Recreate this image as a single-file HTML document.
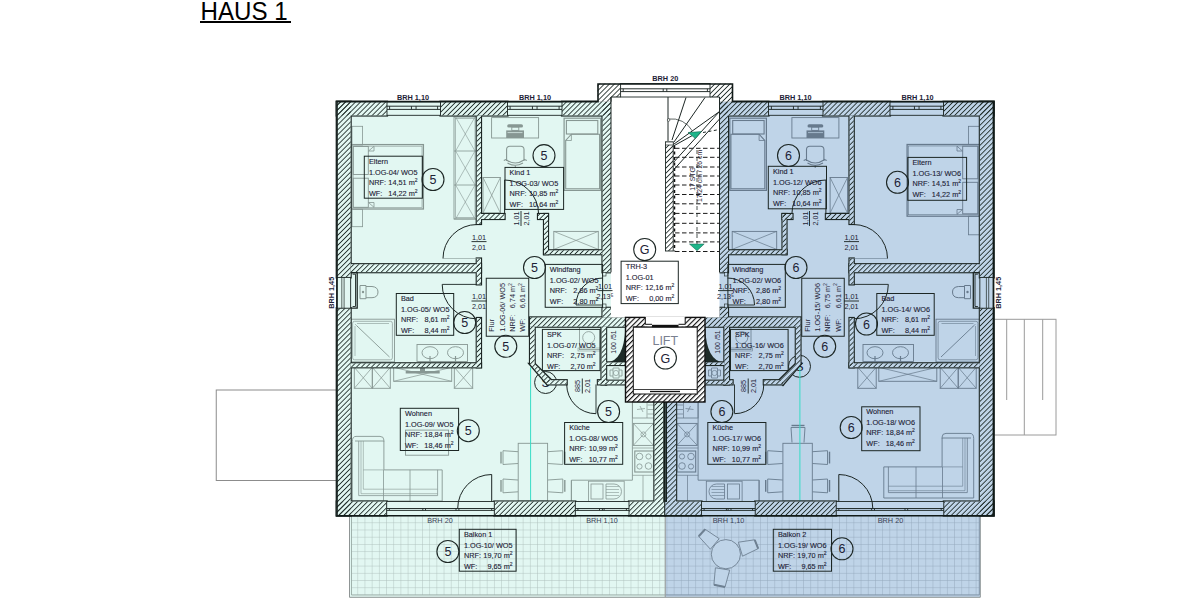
<!DOCTYPE html><html><head><meta charset="utf-8"><style>
html,body{margin:0;padding:0;background:#fff;width:1200px;height:600px;overflow:hidden}
svg{display:block}
text{font-family:"Liberation Sans",sans-serif}
.lb text{stroke:#1d2236;stroke-width:0.12px}
</style></head><body>
<svg width="1200" height="600" viewBox="0 0 1200 600">
<defs>
<pattern id="hL" patternUnits="userSpaceOnUse" width="3.55" height="3.55" patternTransform="rotate(-45)">
<rect x="0" y="0" width="3.55" height="0.85" fill="#1e2a27"/></pattern>
<pattern id="hR" patternUnits="userSpaceOnUse" width="3.55" height="3.55" patternTransform="rotate(45)">
<rect x="0" y="0" width="3.55" height="0.85" fill="#1e2a27"/></pattern>
<pattern id="hLift" patternUnits="userSpaceOnUse" width="3.6" height="3.6" patternTransform="rotate(-45)">
<rect x="0" y="0" width="3.6" height="1.15" fill="#111"/></pattern>
<pattern id="grid" patternUnits="userSpaceOnUse" width="7.19" height="7.22" x="357.3" y="522.3">
<path d="M0 0V7.22M0 0H7.19" stroke="#adc0bb" stroke-width="0.9" fill="none"/></pattern>
<pattern id="gridB" patternUnits="userSpaceOnUse" width="7.19" height="7.22" x="357.3" y="522.3">
<path d="M0 0V7.22M0 0H7.19" stroke="#93a8bc" stroke-width="0.9" fill="none"/></pattern>
</defs>

<text x="0" y="0" font-size="25.8" fill="#000" transform="translate(200.6,19.7) scale(0.935,1)">HAUS 1</text>
<line x1="200" y1="22" x2="291" y2="22" stroke="#000" stroke-width="2.2" />
<rect x="216.25" y="390" width="120.5" height="90.5" fill="#fff" stroke="#8c8c8c" stroke-width="1" />
<rect x="993.75" y="319.3" width="62.25" height="115.7" fill="#fff" stroke="#9a9a9a" stroke-width="1" />
<line x1="1006.7" y1="319.3" x2="1006.7" y2="400" stroke="#9a9a9a" stroke-width="1" />
<line x1="1024.3" y1="319.3" x2="1024.3" y2="435" stroke="#9a9a9a" stroke-width="1" />
<line x1="1042.7" y1="319.3" x2="1042.7" y2="400" stroke="#9a9a9a" stroke-width="1" />
<rect x="349.5" y="515.5" width="315.75" height="81.8" fill="#e2f7f2" stroke="none" stroke-width="1" />
<rect x="351.5" y="515.5" width="313.75" height="79.5" fill="url(#grid)" stroke="none" stroke-width="1" />
<rect x="665.25" y="515.5" width="315.05" height="81.8" fill="#bfd4e8" stroke="none" stroke-width="1" />
<rect x="665.25" y="515.5" width="314.05" height="79.5" fill="url(#gridB)" stroke="none" stroke-width="1" />
<path d="M349.5 515.5V597.3H980.3V515.5" fill="none" stroke="#8f9595" stroke-width="1"/>
<path d="M351.5 515.5V595H665.25" fill="none" stroke="#98aaa5" stroke-width="0.9"/>
<path d="M665.25 595H979.3V515.5" fill="none" stroke="#7a8ea2" stroke-width="0.9"/>
<polygon points="698.7,536.3 705.2,529.3 719.2,538.7 710.4,549.2" fill="#bfd4e8" stroke="#6e8092" stroke-width="0.9"/>
<polyline points="698.7,536.3 705.2,529.3" fill="none" stroke="#6e8092" stroke-width="2"/>
<polygon points="738.4,542.2 754.7,539.8 758.2,548.6 742.5,556.2" fill="#bfd4e8" stroke="#6e8092" stroke-width="0.9"/>
<polyline points="754.7,539.8 758.2,548.6" fill="none" stroke="#6e8092" stroke-width="2"/>
<polygon points="715.4,567.8 729.7,570.1 725,587 713.9,584.7" fill="#bfd4e8" stroke="#6e8092" stroke-width="0.9"/>
<polyline points="713.9,584.7 725,587" fill="none" stroke="#6e8092" stroke-width="2"/>
<circle cx="725.9" cy="554.2" r="14.6" fill="#bfd4e8" stroke="#6e8092" stroke-width="0.9"/>
<line x1="665.25" y1="515.5" x2="665.25" y2="597" stroke="#9aa0a0" stroke-width="1.2" />
<rect x="336.75" y="101.75" width="328.5" height="413.75" fill="#e2f7f2" stroke="none" stroke-width="1" />
<circle cx="545.6" cy="382.5" r="11" fill="none" stroke="#1c2624" stroke-width="1"/>
<text x="545.6" y="387" font-size="12.5" fill="#1d2236" text-anchor="middle">S</text>
<rect x="351.8" y="144.6" width="71.6" height="64.4" fill="none" stroke="#879793" stroke-width="1.3" />
<rect x="353.2" y="146.2" width="68.8" height="61.3" fill="none" stroke="#879793" stroke-width="0.6" />
<rect x="353.2" y="146.5" width="15.1" height="28" fill="none" stroke="#879793" stroke-width="0.9" />
<rect x="353.2" y="178.2" width="15.1" height="29.1" fill="none" stroke="#879793" stroke-width="0.9" />
<path d="M368.5 151L374 146.3V151Z M368.5 202.5L374 207.3V202.5Z" fill="none" stroke="#879793" stroke-width="0.8" />
<rect x="352" y="126.3" width="10.6" height="18.7" fill="none" stroke="#879793" stroke-width="0.8" />
<rect x="352" y="209.3" width="10.6" height="17.4" fill="none" stroke="#879793" stroke-width="0.8" />
<rect x="454" y="117" width="22.5" height="102" fill="none" stroke="#879793" stroke-width="0.9" />
<rect x="455.6" y="118.5" width="19.4" height="99" fill="none" stroke="#879793" stroke-width="0.6" />
<line x1="455.6" y1="117" x2="475" y2="151" stroke="#879793" stroke-width="0.6" />
<line x1="455.6" y1="151" x2="475" y2="117" stroke="#879793" stroke-width="0.6" />
<line x1="454" y1="151" x2="476.5" y2="151" stroke="#879793" stroke-width="0.8" />
<line x1="455.6" y1="151" x2="475" y2="185" stroke="#879793" stroke-width="0.6" />
<line x1="455.6" y1="185" x2="475" y2="151" stroke="#879793" stroke-width="0.6" />
<line x1="454" y1="185" x2="476.5" y2="185" stroke="#879793" stroke-width="0.8" />
<line x1="455.6" y1="185" x2="475" y2="219" stroke="#879793" stroke-width="0.6" />
<line x1="455.6" y1="219" x2="475" y2="185" stroke="#879793" stroke-width="0.6" />
<line x1="454" y1="219" x2="476.5" y2="219" stroke="#879793" stroke-width="0.8" />
<rect x="491.6" y="117.6" width="47" height="20.4" fill="none" stroke="#879793" stroke-width="0.9" />
<rect x="506.2" y="130.4" width="17.8" height="7.6" fill="#879793" stroke="none" stroke-width="1" />
<line x1="507.5" y1="132.6" x2="522.5" y2="132.6" stroke="#e2f7f2" stroke-width="0.7" />
<rect x="511.8" y="127" width="7" height="3.4" fill="none" stroke="#879793" stroke-width="0.9" />
<rect x="507.2" y="124.3" width="15.8" height="3.2" fill="#879793" stroke="none" stroke-width="1" rx="1.6"/>
<path d="M506.6 161 V149.5 Q506.6 146.2 510 146.2 H520.6 Q524 146.2 524 149.5 V161" fill="none" stroke="#879793" stroke-width="1.1" />
<path d="M503.8 160.5 L506.6 159.3 M526.8 160.5 L524 159.3 M506.6 160 Q515.3 166 524 160 M507.5 163 Q515.3 167.5 523 163" fill="none" stroke="#879793" stroke-width="1.1" />
<line x1="515.3" y1="165.5" x2="515.3" y2="168" stroke="#879793" stroke-width="1" />
<rect x="564.1" y="118.2" width="36.6" height="72.2" fill="none" stroke="#879793" stroke-width="1.2" />
<rect x="566.4" y="120.5" width="31.4" height="13.5" fill="none" stroke="#879793" stroke-width="1.1" />
<path d="M571.4 134.2H599.6V188.8H565.7V140.5Z" fill="none" stroke="#879793" stroke-width="1.1" />
<path d="M565.7 140.5H571.4V134.2" fill="none" stroke="#879793" stroke-width="0.8" />
<rect x="483" y="177.5" width="17.4" height="35.5" fill="none" stroke="#879793" stroke-width="0.9" /><line x1="483" y1="177.5" x2="500.4" y2="213" stroke="#879793" stroke-width="0.7200000000000001" /><line x1="483" y1="213" x2="500.4" y2="177.5" stroke="#879793" stroke-width="0.7200000000000001" />
<rect x="553.8" y="231.4" width="44.5" height="18" fill="none" stroke="#879793" stroke-width="0.9" /><line x1="553.8" y1="231.4" x2="598.3" y2="249.4" stroke="#879793" stroke-width="0.7200000000000001" /><line x1="553.8" y1="249.4" x2="598.3" y2="231.4" stroke="#879793" stroke-width="0.7200000000000001" />
<path d="M360 285.5H366V298.7H360Z M366 286.5H372 Q378 287 378 292 Q378 297.5 372 297.7H366" fill="none" stroke="#879793" stroke-width="1" />
<circle cx="363" cy="292" r="1.2" fill="#879793"/>
<rect x="350.8" y="319.2" width="43.7" height="42.7" fill="none" stroke="#879793" stroke-width="0.9" />
<rect x="352.6" y="321.3" width="39.8" height="38.5" fill="none" stroke="#879793" stroke-width="0.7" rx="2"/>
<line x1="357" y1="326" x2="389.5" y2="357" stroke="#879793" stroke-width="0.9" />
<line x1="355" y1="324" x2="358" y2="327" stroke="#879793" stroke-width="0.6" />
<line x1="355" y1="326" x2="355" y2="356" stroke="#879793" stroke-width="0.6" />
<line x1="357" y1="323.5" x2="389" y2="323.5" stroke="#879793" stroke-width="0.6" />
<rect x="417" y="344.5" width="50.5" height="17" fill="none" stroke="#879793" stroke-width="0.9" />
<ellipse cx="430" cy="352.7" rx="8" ry="6" fill="none" stroke="#879793" stroke-width="0.9"/>
<ellipse cx="455.5" cy="352.7" rx="8" ry="6" fill="none" stroke="#879793" stroke-width="0.9"/>
<line x1="430" y1="356" x2="430" y2="362" stroke="#879793" stroke-width="1.2" />
<line x1="455.5" y1="356" x2="455.5" y2="362" stroke="#879793" stroke-width="1.2" />
<rect x="354.3" y="367.3" width="18" height="21" fill="none" stroke="#879793" stroke-width="0.9" /><line x1="354.3" y1="367.3" x2="372.3" y2="388.3" stroke="#879793" stroke-width="0.7200000000000001" /><line x1="354.3" y1="388.3" x2="372.3" y2="367.3" stroke="#879793" stroke-width="0.7200000000000001" />
<rect x="372.3" y="367.3" width="18" height="21" fill="none" stroke="#879793" stroke-width="0.9" /><line x1="372.3" y1="367.3" x2="390.3" y2="388.3" stroke="#879793" stroke-width="0.7200000000000001" /><line x1="372.3" y1="388.3" x2="390.3" y2="367.3" stroke="#879793" stroke-width="0.7200000000000001" />
<rect x="393.7" y="367.3" width="58" height="14" fill="none" stroke="#879793" stroke-width="0.9" /><line x1="393.7" y1="367.3" x2="451.7" y2="381.3" stroke="#879793" stroke-width="0.7200000000000001" /><line x1="393.7" y1="381.3" x2="451.7" y2="367.3" stroke="#879793" stroke-width="0.7200000000000001" />
<rect x="454.3" y="367.3" width="18.4" height="21" fill="none" stroke="#879793" stroke-width="0.9" /><line x1="454.3" y1="367.3" x2="472.7" y2="388.3" stroke="#879793" stroke-width="0.7200000000000001" /><line x1="454.3" y1="388.3" x2="472.7" y2="367.3" stroke="#879793" stroke-width="0.7200000000000001" />
<rect x="405.7" y="371" width="34" height="2.5" fill="#879793" stroke="none" stroke-width="1" />
<rect x="420" y="368" width="5" height="3" fill="#879793" stroke="none" stroke-width="1" />
<path d="M352.3 501V441.5 Q352.3 436.4 356 436.4H380 Q383.9 436.4 383.9 440V441.5" fill="none" stroke="#879793" stroke-width="0.9" />
<path d="M355 441H383.9V469.9H442.2V501H352.3" fill="none" stroke="#879793" stroke-width="0.9" />
<path d="M358.7 441V495.6H437.6V469.9" fill="none" stroke="#879793" stroke-width="0.8" />
<path d="M361 441V493.7H437.6" fill="none" stroke="#879793" stroke-width="0.6" />
<path d="M363.3 441V489.2H437.6" fill="none" stroke="#879793" stroke-width="0.6" />
<line x1="383.5" y1="469.9" x2="383.5" y2="501" stroke="#879793" stroke-width="0.8" />
<line x1="410" y1="469.9" x2="410" y2="501" stroke="#879793" stroke-width="0.8" />
<line x1="363.3" y1="469.9" x2="383.5" y2="469.9" stroke="#879793" stroke-width="0.6" />
<rect x="405.5" y="430.1" width="43.1" height="25.1" fill="none" stroke="#879793" stroke-width="0.9" />
<rect x="518.2" y="443.3" width="29.4" height="57.7" fill="none" stroke="#879793" stroke-width="0.9" />
<path d="M518 451.7L503 450.7V464.5L518 463.5" fill="none" stroke="#879793" stroke-width="0.9" />
<path d="M501 451.7V463.5" fill="none" stroke="#879793" stroke-width="1.4" />
<path d="M547.8 451.7L562.8 450.7V464.5L547.8 463.5" fill="none" stroke="#879793" stroke-width="0.9" />
<path d="M564.8 451.7V463.5" fill="none" stroke="#879793" stroke-width="1.4" />
<path d="M518 480L503 479V492.8L518 491.8" fill="none" stroke="#879793" stroke-width="0.9" />
<path d="M501 480V491.8" fill="none" stroke="#879793" stroke-width="1.4" />
<path d="M547.8 480L562.8 479V492.8L547.8 491.8" fill="none" stroke="#879793" stroke-width="0.9" />
<path d="M564.8 480V491.8" fill="none" stroke="#879793" stroke-width="1.4" />
<path d="M632.4 402V480.2H571.4V501.5" fill="none" stroke="#879793" stroke-width="0.9" />
<rect x="632.4" y="402" width="22" height="16" fill="none" stroke="#879793" stroke-width="0.8" />
<line x1="647" y1="402" x2="647" y2="418" stroke="#879793" stroke-width="0.7" />
<path d="M637 409.5L645 408.5M640 406L643 412M647.5 405H653.5M647.5 409.5H653.5M647.5 414H653.5" fill="none" stroke="#879793" stroke-width="0.7" />
<rect x="633.3" y="423.4" width="20.2" height="22" fill="none" stroke="#879793" stroke-width="0.9" /><line x1="633.3" y1="423.4" x2="653.5" y2="445.4" stroke="#879793" stroke-width="0.7200000000000001" /><line x1="633.3" y1="445.4" x2="653.5" y2="423.4" stroke="#879793" stroke-width="0.7200000000000001" />
<circle cx="643.4" cy="434.4" r="2.5" fill="none" stroke="#879793" stroke-width="0.7"/>
<rect x="634.8" y="451" width="18.7" height="21" fill="none" stroke="#879793" stroke-width="1.1" />
<circle cx="639.5" cy="456.5" r="3.3" fill="none" stroke="#879793" stroke-width="0.8"/>
<circle cx="648.5" cy="456.5" r="2.6" fill="none" stroke="#879793" stroke-width="0.8"/>
<circle cx="639.5" cy="466.5" r="2.6" fill="none" stroke="#879793" stroke-width="0.8"/>
<circle cx="648.5" cy="466" r="3.3" fill="none" stroke="#879793" stroke-width="0.8"/>
<line x1="632.4" y1="475.3" x2="654.4" y2="475.3" stroke="#879793" stroke-width="0.7" />
<line x1="643" y1="475.3" x2="643" y2="502" stroke="#879793" stroke-width="0.7" />
<line x1="632.4" y1="448" x2="654.4" y2="448" stroke="#879793" stroke-width="0.7" />
<rect x="588.4" y="481.2" width="35.8" height="20.8" fill="none" stroke="#879793" stroke-width="0.8" />
<rect x="591" y="484" width="12" height="15" fill="none" stroke="#879793" stroke-width="0.8" />
<path d="M606 484H614 A7.5 7.5 0 0 1 614 499H606Z" fill="none" stroke="#879793" stroke-width="0.8" />
<line x1="606" y1="486.5" x2="619" y2="486.5" stroke="#879793" stroke-width="0.6" />
<line x1="606" y1="489.5" x2="619" y2="489.5" stroke="#879793" stroke-width="0.6" />
<line x1="606" y1="492.5" x2="619" y2="492.5" stroke="#879793" stroke-width="0.6" />
<line x1="606" y1="495.5" x2="619" y2="495.5" stroke="#879793" stroke-width="0.6" />
<line x1="571.4" y1="480.2" x2="571.4" y2="501.5" stroke="#879793" stroke-width="0.8" />
<rect x="606.1" y="326.7" width="19.4" height="35.7" fill="#e2f7f2" stroke="#1c2624" stroke-width="0.9" />
<path d="M607 362.2H625.3V328Q624 361 607 362.2Z" fill="#1e2b28"/>
<rect x="606.1" y="365" width="19.4" height="15.7" fill="#e2f7f2" stroke="#1c2624" stroke-width="0.8" />
<path d="M610 370H613V368H619V370H622V376H619V378H613V376H610Z M613 370V376M619 370V376" fill="none" stroke="#879793" stroke-width="0.8" />
<circle cx="616" cy="373" r="2.6" fill="none" stroke="#879793" stroke-width="0.7"/>
<rect x="579.5" y="327.6" width="21.1" height="22" fill="none" stroke="#879793" stroke-width="0.8" />
<circle cx="588.7" cy="337.6" r="6" fill="none" stroke="#879793" stroke-width="0.8"/>
<rect x="578" y="348" width="22.6" height="3" fill="none" stroke="#879793" stroke-width="0.6" />
<line x1="530.6" y1="367.4" x2="530.6" y2="501.5" stroke="#35dcc6" stroke-width="1" />
<rect x="337.05" y="102.05" width="49.65" height="13.15" fill="none" stroke="#1c2624" stroke-width="2.8" />
<rect x="440.8" y="102.05" width="66.4" height="13.15" fill="none" stroke="#1c2624" stroke-width="2.8" />
<rect x="562.3" y="102.05" width="48.4" height="13.15" fill="none" stroke="#1c2624" stroke-width="2.8" />
<rect x="337.05" y="102.05" width="13.3" height="175.05" fill="none" stroke="#1c2624" stroke-width="2.8" />
<rect x="337.05" y="308.5" width="13.3" height="206.7" fill="none" stroke="#1c2624" stroke-width="2.8" />
<rect x="337.05" y="501.8" width="49.35" height="13.4" fill="none" stroke="#1c2624" stroke-width="2.8" />
<rect x="494.6" y="501.8" width="80.4" height="13.4" fill="none" stroke="#1c2624" stroke-width="2.8" />
<rect x="629.3" y="501.8" width="35.65" height="13.4" fill="none" stroke="#1c2624" stroke-width="2.8" />
<rect x="602.8" y="102.05" width="7.9" height="169.95" fill="none" stroke="#1c2624" stroke-width="2.8" />
<rect x="602.8" y="308.1" width="7.9" height="9" fill="none" stroke="#1c2624" stroke-width="2.8" />
<rect x="477.05" y="115.8" width="3.65" height="107.9" fill="none" stroke="#1c2624" stroke-width="2.8" />
<rect x="477.05" y="258.8" width="3.65" height="25.3" fill="none" stroke="#1c2624" stroke-width="2.8" />
<rect x="477.05" y="318.3" width="3.65" height="48.7" fill="none" stroke="#1c2624" stroke-width="2.8" />
<rect x="350.95" y="264.5" width="129.75" height="7.4" fill="none" stroke="#1c2624" stroke-width="2.8" />
<rect x="350.95" y="363.6" width="129.75" height="3.4" fill="none" stroke="#1c2624" stroke-width="2.8" />
<rect x="481.3" y="214.3" width="23" height="4.4" fill="none" stroke="#1c2624" stroke-width="2.8" />
<rect x="538.3" y="214.3" width="9.4" height="4.4" fill="none" stroke="#1c2624" stroke-width="2.8" />
<rect x="544.3" y="214.3" width="3.4" height="39.6" fill="none" stroke="#1c2624" stroke-width="2.8" />
<rect x="544.3" y="250.6" width="57.9" height="3.3" fill="none" stroke="#1c2624" stroke-width="2.8" />
<rect x="530.3" y="317.7" width="94.9" height="8.7" fill="none" stroke="#1c2624" stroke-width="2.8" />
<rect x="530.3" y="327" width="4.1" height="36.7" fill="none" stroke="#1c2624" stroke-width="2.8" />
<rect x="547.8" y="380.5" width="18.6" height="3.6" fill="none" stroke="#1c2624" stroke-width="2.8" />
<rect x="601.8" y="327" width="4" height="57.1" fill="none" stroke="#1c2624" stroke-width="2.8" />
<rect x="598.2" y="380.5" width="7.6" height="3.6" fill="none" stroke="#1c2624" stroke-width="2.8" />
<rect x="606.4" y="362.7" width="18.8" height="2" fill="none" stroke="#1c2624" stroke-width="2.8" />
<rect x="606.4" y="381" width="18.8" height="3.1" fill="none" stroke="#1c2624" stroke-width="2.8" />
<rect x="654.7" y="402.3" width="8.5" height="99.4" fill="none" stroke="#1c2624" stroke-width="2.8" />
<polygon points="530,364 534.7,364 551,380.2 547.5,384.4" fill="none" stroke="#1c2624" stroke-width="2.6"/>
<rect x="336.75" y="101.75" width="50.25" height="13.75" fill="#e2f7f2" stroke="none" stroke-width="1" />
<rect x="440.5" y="101.75" width="67" height="13.75" fill="#e2f7f2" stroke="none" stroke-width="1" />
<rect x="562" y="101.75" width="49" height="13.75" fill="#e2f7f2" stroke="none" stroke-width="1" />
<rect x="336.75" y="101.75" width="13.9" height="175.65" fill="#e2f7f2" stroke="none" stroke-width="1" />
<rect x="336.75" y="308.2" width="13.9" height="207.3" fill="#e2f7f2" stroke="none" stroke-width="1" />
<rect x="336.75" y="501.5" width="49.95" height="14" fill="#e2f7f2" stroke="none" stroke-width="1" />
<rect x="494.3" y="501.5" width="81" height="14" fill="#e2f7f2" stroke="none" stroke-width="1" />
<rect x="629" y="501.5" width="36.25" height="14" fill="#e2f7f2" stroke="none" stroke-width="1" />
<rect x="602.5" y="101.75" width="8.5" height="170.55" fill="#e2f7f2" stroke="none" stroke-width="1" />
<rect x="602.5" y="307.8" width="8.5" height="9.6" fill="#e2f7f2" stroke="none" stroke-width="1" />
<rect x="476.75" y="115.5" width="4.25" height="108.5" fill="#e2f7f2" stroke="none" stroke-width="1" />
<rect x="476.75" y="258.5" width="4.25" height="25.9" fill="#e2f7f2" stroke="none" stroke-width="1" />
<rect x="476.75" y="318" width="4.25" height="49.3" fill="#e2f7f2" stroke="none" stroke-width="1" />
<rect x="350.65" y="264.2" width="130.35" height="8" fill="#e2f7f2" stroke="none" stroke-width="1" />
<rect x="350.65" y="363.3" width="130.35" height="4" fill="#e2f7f2" stroke="none" stroke-width="1" />
<rect x="481" y="214" width="23.6" height="5" fill="#e2f7f2" stroke="none" stroke-width="1" />
<rect x="538" y="214" width="10" height="5" fill="#e2f7f2" stroke="none" stroke-width="1" />
<rect x="544" y="214" width="4" height="40.2" fill="#e2f7f2" stroke="none" stroke-width="1" />
<rect x="544" y="250.3" width="58.5" height="3.9" fill="#e2f7f2" stroke="none" stroke-width="1" />
<rect x="530" y="317.4" width="95.5" height="9.3" fill="#e2f7f2" stroke="none" stroke-width="1" />
<rect x="530" y="326.7" width="4.7" height="37.3" fill="#e2f7f2" stroke="none" stroke-width="1" />
<rect x="547.5" y="380.2" width="19.2" height="4.2" fill="#e2f7f2" stroke="none" stroke-width="1" />
<rect x="601.5" y="326.7" width="4.6" height="57.7" fill="#e2f7f2" stroke="none" stroke-width="1" />
<rect x="597.9" y="380.2" width="8.2" height="4.2" fill="#e2f7f2" stroke="none" stroke-width="1" />
<rect x="606.1" y="362.4" width="19.4" height="2.6" fill="#e2f7f2" stroke="none" stroke-width="1" />
<rect x="606.1" y="380.7" width="19.4" height="3.7" fill="#e2f7f2" stroke="none" stroke-width="1" />
<rect x="654.4" y="402" width="9.1" height="100" fill="#e2f7f2" stroke="none" stroke-width="1" />
<polygon points="530,364 534.7,364 551,380.2 547.5,384.4" fill="#e2f7f2"/>
<rect x="336.75" y="101.75" width="50.25" height="13.75" fill="url(#hL)" stroke="none" stroke-width="1" />
<rect x="440.5" y="101.75" width="67" height="13.75" fill="url(#hL)" stroke="none" stroke-width="1" />
<rect x="562" y="101.75" width="49" height="13.75" fill="url(#hL)" stroke="none" stroke-width="1" />
<rect x="336.75" y="101.75" width="13.9" height="175.65" fill="url(#hL)" stroke="none" stroke-width="1" />
<rect x="336.75" y="308.2" width="13.9" height="207.3" fill="url(#hL)" stroke="none" stroke-width="1" />
<rect x="336.75" y="501.5" width="49.95" height="14" fill="url(#hL)" stroke="none" stroke-width="1" />
<rect x="494.3" y="501.5" width="81" height="14" fill="url(#hL)" stroke="none" stroke-width="1" />
<rect x="629" y="501.5" width="36.25" height="14" fill="url(#hL)" stroke="none" stroke-width="1" />
<rect x="602.5" y="101.75" width="8.5" height="170.55" fill="url(#hL)" stroke="none" stroke-width="1" />
<rect x="602.5" y="307.8" width="8.5" height="9.6" fill="url(#hL)" stroke="none" stroke-width="1" />
<rect x="476.75" y="115.5" width="4.25" height="108.5" fill="url(#hL)" stroke="none" stroke-width="1" />
<rect x="476.75" y="258.5" width="4.25" height="25.9" fill="url(#hL)" stroke="none" stroke-width="1" />
<rect x="476.75" y="318" width="4.25" height="49.3" fill="url(#hL)" stroke="none" stroke-width="1" />
<rect x="350.65" y="264.2" width="130.35" height="8" fill="url(#hL)" stroke="none" stroke-width="1" />
<rect x="350.65" y="363.3" width="130.35" height="4" fill="url(#hL)" stroke="none" stroke-width="1" />
<rect x="481" y="214" width="23.6" height="5" fill="url(#hL)" stroke="none" stroke-width="1" />
<rect x="538" y="214" width="10" height="5" fill="url(#hL)" stroke="none" stroke-width="1" />
<rect x="544" y="214" width="4" height="40.2" fill="url(#hL)" stroke="none" stroke-width="1" />
<rect x="544" y="250.3" width="58.5" height="3.9" fill="url(#hL)" stroke="none" stroke-width="1" />
<rect x="530" y="317.4" width="95.5" height="9.3" fill="url(#hL)" stroke="none" stroke-width="1" />
<rect x="530" y="326.7" width="4.7" height="37.3" fill="url(#hL)" stroke="none" stroke-width="1" />
<rect x="547.5" y="380.2" width="19.2" height="4.2" fill="url(#hL)" stroke="none" stroke-width="1" />
<rect x="601.5" y="326.7" width="4.6" height="57.7" fill="url(#hL)" stroke="none" stroke-width="1" />
<rect x="597.9" y="380.2" width="8.2" height="4.2" fill="url(#hL)" stroke="none" stroke-width="1" />
<rect x="606.1" y="362.4" width="19.4" height="2.6" fill="url(#hL)" stroke="none" stroke-width="1" />
<rect x="606.1" y="380.7" width="19.4" height="3.7" fill="url(#hL)" stroke="none" stroke-width="1" />
<rect x="654.4" y="402" width="9.1" height="100" fill="url(#hL)" stroke="none" stroke-width="1" />
<polygon points="530,364 534.7,364 551,380.2 547.5,384.4" fill="url(#hL)"/>
<rect x="663.5" y="402" width="1.75" height="100" fill="#15201d" stroke="none" stroke-width="1" />
<rect x="387" y="101.75" width="53.5" height="13.55" fill="#e2f7f2" stroke="#1c2624" stroke-width="0.9" />
<line x1="387" y1="106.2" x2="440.5" y2="106.2" stroke="#1c2624" stroke-width="0.95" />
<line x1="387" y1="109.4" x2="440.5" y2="109.4" stroke="#1c2624" stroke-width="0.95" />
<line x1="389.6" y1="106.2" x2="389.6" y2="109.4" stroke="#1c2624" stroke-width="0.9" />
<line x1="437.6" y1="106.2" x2="437.6" y2="109.4" stroke="#1c2624" stroke-width="0.9" />
<line x1="411.45" y1="106.2" x2="411.45" y2="109.4" stroke="#1c2624" stroke-width="0.9" />
<line x1="416.05" y1="106.2" x2="416.05" y2="109.4" stroke="#1c2624" stroke-width="0.9" />
<rect x="507.5" y="101.75" width="54.5" height="13.55" fill="#e2f7f2" stroke="#1c2624" stroke-width="0.9" />
<line x1="507.5" y1="106.2" x2="562" y2="106.2" stroke="#1c2624" stroke-width="0.95" />
<line x1="507.5" y1="109.4" x2="562" y2="109.4" stroke="#1c2624" stroke-width="0.95" />
<line x1="510.1" y1="106.2" x2="510.1" y2="109.4" stroke="#1c2624" stroke-width="0.9" />
<line x1="559.1" y1="106.2" x2="559.1" y2="109.4" stroke="#1c2624" stroke-width="0.9" />
<line x1="532.45" y1="106.2" x2="532.45" y2="109.4" stroke="#1c2624" stroke-width="0.9" />
<line x1="537.05" y1="106.2" x2="537.05" y2="109.4" stroke="#1c2624" stroke-width="0.9" />
<rect x="386.7" y="501.5" width="107.6" height="14" fill="#e2f7f2" stroke="#1c2624" stroke-width="0.9" />
<line x1="386.7" y1="508.5" x2="494.3" y2="508.5" stroke="#1c2624" stroke-width="0.95" />
<line x1="386.7" y1="510.4" x2="494.3" y2="510.4" stroke="#1c2624" stroke-width="0.95" />
<line x1="389.3" y1="508.5" x2="389.3" y2="510.4" stroke="#1c2624" stroke-width="0.9" />
<line x1="491.7" y1="508.5" x2="491.7" y2="510.4" stroke="#1c2624" stroke-width="0.9" />
<rect x="575.3" y="501.5" width="53.7" height="14" fill="#e2f7f2" stroke="#1c2624" stroke-width="0.9" />
<line x1="575.3" y1="508.5" x2="629" y2="508.5" stroke="#1c2624" stroke-width="0.95" />
<line x1="575.3" y1="510.4" x2="629" y2="510.4" stroke="#1c2624" stroke-width="0.95" />
<line x1="577.9" y1="508.5" x2="577.9" y2="510.4" stroke="#1c2624" stroke-width="0.9" />
<line x1="626.4" y1="508.5" x2="626.4" y2="510.4" stroke="#1c2624" stroke-width="0.9" />
<line x1="422.8" y1="508.5" x2="422.8" y2="510.4" stroke="#1c2624" stroke-width="0.9" />
<line x1="425.5" y1="508.5" x2="425.5" y2="510.4" stroke="#1c2624" stroke-width="0.9" />
<line x1="456" y1="508.5" x2="456" y2="510.4" stroke="#1c2624" stroke-width="0.9" />
<line x1="458.9" y1="508.5" x2="458.9" y2="510.4" stroke="#1c2624" stroke-width="0.9" />
<line x1="599.5" y1="508.5" x2="599.5" y2="510.4" stroke="#1c2624" stroke-width="0.9" />
<line x1="602.4" y1="508.5" x2="602.4" y2="510.4" stroke="#1c2624" stroke-width="0.9" />
<line x1="604.1" y1="508.5" x2="604.1" y2="510.4" stroke="#1c2624" stroke-width="0.9" />
<rect x="336.75" y="277.4" width="13.9" height="30.8" fill="#e2f7f2" stroke="#1c2624" stroke-width="0.9" />
<line x1="341.8" y1="277.4" x2="341.8" y2="308.2" stroke="#1c2624" stroke-width="0.7" />
<line x1="344.1" y1="277.4" x2="344.1" y2="308.2" stroke="#1c2624" stroke-width="0.7" />
<path d="M350.9 272.7H357.2V308.2H350.9" fill="none" stroke="#1c2624" stroke-width="1.3" />
<path d="M352.6 274.2H355.5V306.5H352.6" fill="none" stroke="#1c2624" stroke-width="0.9" />
<path d="M477 224.5 A34 34 0 0 0 443 258.5" fill="none" stroke="#1c2624" stroke-width="1" />
<line x1="443" y1="258.5" x2="477" y2="258.5" stroke="#879793" stroke-width="0.6" />
<line x1="442.2" y1="284.4" x2="476.6" y2="284.4" stroke="#1c2624" stroke-width="0.9" />
<path d="M442.2 284.4 A34.4 34.4 0 0 0 476.6 318.8" fill="none" stroke="#1c2624" stroke-width="1" />
<line x1="504.6" y1="180" x2="504.6" y2="214" stroke="#1c2624" stroke-width="1" />
<path d="M504.6 180 A34 34 0 0 1 538.6 214" fill="none" stroke="#1c2624" stroke-width="1" />
<line x1="576" y1="305" x2="603" y2="305" stroke="#1c2624" stroke-width="0.9" />
<path d="M576 305 A27 27 0 0 1 603 278" fill="none" stroke="#1c2624" stroke-width="1" />
<rect x="602.5" y="272.3" width="3.5" height="3.7" fill="#e2f7f2" stroke="#1c2624" stroke-width="0.6" />
<rect x="602.5" y="304" width="3.5" height="3.8" fill="#e2f7f2" stroke="#1c2624" stroke-width="0.6" />
<line x1="596" y1="384.4" x2="596" y2="413.5" stroke="#1c2624" stroke-width="0.9" />
<path d="M566.7 384.4 A29.3 29.3 0 0 0 596 413.7" fill="none" stroke="#1c2624" stroke-width="1" />
<line x1="491.7" y1="474.5" x2="491.7" y2="501.5" stroke="#1c2624" stroke-width="1" />
<path d="M491.7 474.5 A34 34 0 0 0 457.7 508.5" fill="none" stroke="#1c2624" stroke-width="1" />
<g transform="matrix(-1 0 0 1 1330.5 0)"><rect x="336.75" y="101.75" width="328.5" height="413.75" fill="#bfd4e8" stroke="none" stroke-width="1" />
<circle cx="531" cy="366.3" r="11" fill="none" stroke="#1c2624" stroke-width="1"/>
<text x="-531" y="370.8" font-size="12.5" fill="#1d2236" text-anchor="middle" transform="scale(-1,1)">S</text>
<rect x="351" y="144.5" width="72.4" height="71.7" fill="none" stroke="#677a8d" stroke-width="1.3" />
<rect x="352.4" y="146" width="69.6" height="68.7" fill="none" stroke="#677a8d" stroke-width="0.6" />
<rect x="352.7" y="146.2" width="15.1" height="32.6" fill="none" stroke="#677a8d" stroke-width="0.9" />
<rect x="352.7" y="182.3" width="15.1" height="31.5" fill="none" stroke="#677a8d" stroke-width="0.9" />
<path d="M368 151L373.5 146.2V151Z M368 209.5L373.5 214.3V209.5Z" fill="none" stroke="#677a8d" stroke-width="0.8" />
<rect x="351" y="126.3" width="11" height="18.2" fill="none" stroke="#677a8d" stroke-width="0.8" />
<rect x="351" y="216.2" width="11" height="18.6" fill="none" stroke="#677a8d" stroke-width="0.8" />
<rect x="491.6" y="117.6" width="47" height="20.4" fill="none" stroke="#677a8d" stroke-width="0.9" />
<rect x="506.2" y="130.4" width="17.8" height="7.6" fill="#677a8d" stroke="none" stroke-width="1" />
<line x1="507.5" y1="132.6" x2="522.5" y2="132.6" stroke="#bfd4e8" stroke-width="0.7" />
<rect x="511.8" y="127" width="7" height="3.4" fill="none" stroke="#677a8d" stroke-width="0.9" />
<rect x="507.2" y="124.3" width="15.8" height="3.2" fill="#677a8d" stroke="none" stroke-width="1" rx="1.6"/>
<path d="M506.6 161 V149.5 Q506.6 146.2 510 146.2 H520.6 Q524 146.2 524 149.5 V161" fill="none" stroke="#677a8d" stroke-width="1.1" />
<path d="M503.8 160.5 L506.6 159.3 M526.8 160.5 L524 159.3 M506.6 160 Q515.3 166 524 160 M507.5 163 Q515.3 167.5 523 163" fill="none" stroke="#677a8d" stroke-width="1.1" />
<line x1="515.3" y1="165.5" x2="515.3" y2="168" stroke="#677a8d" stroke-width="1" />
<rect x="564.1" y="118.2" width="36.6" height="72.2" fill="none" stroke="#677a8d" stroke-width="1.2" />
<rect x="566.4" y="120.5" width="31.4" height="13.5" fill="none" stroke="#677a8d" stroke-width="1.1" />
<path d="M571.4 134.2H599.6V188.8H565.7V140.5Z" fill="none" stroke="#677a8d" stroke-width="1.1" />
<path d="M565.7 140.5H571.4V134.2" fill="none" stroke="#677a8d" stroke-width="0.8" />
<rect x="483" y="177.5" width="17.4" height="35.5" fill="none" stroke="#677a8d" stroke-width="0.9" /><line x1="483" y1="177.5" x2="500.4" y2="213" stroke="#677a8d" stroke-width="0.7200000000000001" /><line x1="483" y1="213" x2="500.4" y2="177.5" stroke="#677a8d" stroke-width="0.7200000000000001" />
<rect x="553.8" y="231.4" width="44.5" height="18" fill="none" stroke="#677a8d" stroke-width="0.9" /><line x1="553.8" y1="231.4" x2="598.3" y2="249.4" stroke="#677a8d" stroke-width="0.7200000000000001" /><line x1="553.8" y1="249.4" x2="598.3" y2="231.4" stroke="#677a8d" stroke-width="0.7200000000000001" />
<path d="M360 285.5H366V298.7H360Z M366 286.5H372 Q378 287 378 292 Q378 297.5 372 297.7H366" fill="none" stroke="#677a8d" stroke-width="1" />
<circle cx="363" cy="292" r="1.2" fill="#677a8d"/>
<rect x="350.8" y="319.2" width="43.7" height="42.7" fill="none" stroke="#677a8d" stroke-width="0.9" />
<rect x="352.6" y="321.3" width="39.8" height="38.5" fill="none" stroke="#677a8d" stroke-width="0.7" rx="2"/>
<line x1="357" y1="326" x2="389.5" y2="357" stroke="#677a8d" stroke-width="0.9" />
<line x1="355" y1="324" x2="358" y2="327" stroke="#677a8d" stroke-width="0.6" />
<line x1="355" y1="326" x2="355" y2="356" stroke="#677a8d" stroke-width="0.6" />
<line x1="357" y1="323.5" x2="389" y2="323.5" stroke="#677a8d" stroke-width="0.6" />
<rect x="417" y="344.5" width="50.5" height="17" fill="none" stroke="#677a8d" stroke-width="0.9" />
<ellipse cx="430" cy="352.7" rx="8" ry="6" fill="none" stroke="#677a8d" stroke-width="0.9"/>
<ellipse cx="455.5" cy="352.7" rx="8" ry="6" fill="none" stroke="#677a8d" stroke-width="0.9"/>
<line x1="430" y1="356" x2="430" y2="362" stroke="#677a8d" stroke-width="1.2" />
<line x1="455.5" y1="356" x2="455.5" y2="362" stroke="#677a8d" stroke-width="1.2" />
<rect x="354.3" y="367.3" width="18" height="21" fill="none" stroke="#677a8d" stroke-width="0.9" /><line x1="354.3" y1="367.3" x2="372.3" y2="388.3" stroke="#677a8d" stroke-width="0.7200000000000001" /><line x1="354.3" y1="388.3" x2="372.3" y2="367.3" stroke="#677a8d" stroke-width="0.7200000000000001" />
<rect x="372.3" y="367.3" width="18" height="21" fill="none" stroke="#677a8d" stroke-width="0.9" /><line x1="372.3" y1="367.3" x2="390.3" y2="388.3" stroke="#677a8d" stroke-width="0.7200000000000001" /><line x1="372.3" y1="388.3" x2="390.3" y2="367.3" stroke="#677a8d" stroke-width="0.7200000000000001" />
<rect x="393.7" y="367.3" width="58" height="14" fill="none" stroke="#677a8d" stroke-width="0.9" /><line x1="393.7" y1="367.3" x2="451.7" y2="381.3" stroke="#677a8d" stroke-width="0.7200000000000001" /><line x1="393.7" y1="381.3" x2="451.7" y2="367.3" stroke="#677a8d" stroke-width="0.7200000000000001" />
<rect x="454.3" y="367.3" width="18.4" height="21" fill="none" stroke="#677a8d" stroke-width="0.9" /><line x1="454.3" y1="367.3" x2="472.7" y2="388.3" stroke="#677a8d" stroke-width="0.7200000000000001" /><line x1="454.3" y1="388.3" x2="472.7" y2="367.3" stroke="#677a8d" stroke-width="0.7200000000000001" />
<g transform="translate(4.5,-3)">
<path d="M352.3 501V441.5 Q352.3 436.4 356 436.4H380 Q383.9 436.4 383.9 440V441.5" fill="none" stroke="#677a8d" stroke-width="0.9" />
<path d="M355 441H383.9V469.9H442.2V501H352.3" fill="none" stroke="#677a8d" stroke-width="0.9" />
<path d="M358.7 441V495.6H437.6V469.9" fill="none" stroke="#677a8d" stroke-width="0.8" />
<path d="M361 441V493.7H437.6" fill="none" stroke="#677a8d" stroke-width="0.6" />
<path d="M363.3 441V489.2H437.6" fill="none" stroke="#677a8d" stroke-width="0.6" />
<line x1="383.5" y1="469.9" x2="383.5" y2="501" stroke="#677a8d" stroke-width="0.8" />
<line x1="410" y1="469.9" x2="410" y2="501" stroke="#677a8d" stroke-width="0.8" />
<line x1="363.3" y1="469.9" x2="383.5" y2="469.9" stroke="#677a8d" stroke-width="0.6" />
</g>
<rect x="518.2" y="443.3" width="29.4" height="57.7" fill="none" stroke="#677a8d" stroke-width="0.9" />
<path d="M518 451.7L503 450.7V464.5L518 463.5" fill="none" stroke="#677a8d" stroke-width="0.9" />
<path d="M501 451.7V463.5" fill="none" stroke="#677a8d" stroke-width="1.4" />
<path d="M547.8 451.7L562.8 450.7V464.5L547.8 463.5" fill="none" stroke="#677a8d" stroke-width="0.9" />
<path d="M564.8 451.7V463.5" fill="none" stroke="#677a8d" stroke-width="1.4" />
<path d="M518 480L503 479V492.8L518 491.8" fill="none" stroke="#677a8d" stroke-width="0.9" />
<path d="M501 480V491.8" fill="none" stroke="#677a8d" stroke-width="1.4" />
<path d="M547.8 480L562.8 479V492.8L547.8 491.8" fill="none" stroke="#677a8d" stroke-width="0.9" />
<path d="M564.8 480V491.8" fill="none" stroke="#677a8d" stroke-width="1.4" />
<path d="M526.5 442.5L525.5 427.5H539.5L538.5 442.5" fill="none" stroke="#677a8d" stroke-width="0.9" />
<path d="M526 425.5H539" fill="none" stroke="#677a8d" stroke-width="1.4" />
<path d="M632.4 402V480.2H571.4V501.5" fill="none" stroke="#677a8d" stroke-width="0.9" />
<rect x="632.4" y="402" width="22" height="16" fill="none" stroke="#677a8d" stroke-width="0.8" />
<line x1="647" y1="402" x2="647" y2="418" stroke="#677a8d" stroke-width="0.7" />
<path d="M637 409.5L645 408.5M640 406L643 412M647.5 405H653.5M647.5 409.5H653.5M647.5 414H653.5" fill="none" stroke="#677a8d" stroke-width="0.7" />
<rect x="633.3" y="423.4" width="20.2" height="22" fill="none" stroke="#677a8d" stroke-width="0.9" /><line x1="633.3" y1="423.4" x2="653.5" y2="445.4" stroke="#677a8d" stroke-width="0.7200000000000001" /><line x1="633.3" y1="445.4" x2="653.5" y2="423.4" stroke="#677a8d" stroke-width="0.7200000000000001" />
<circle cx="643.4" cy="434.4" r="2.5" fill="none" stroke="#677a8d" stroke-width="0.7"/>
<rect x="634.8" y="451" width="18.7" height="21" fill="none" stroke="#677a8d" stroke-width="1.1" />
<circle cx="639.5" cy="456.5" r="3.3" fill="none" stroke="#677a8d" stroke-width="0.8"/>
<circle cx="648.5" cy="456.5" r="2.6" fill="none" stroke="#677a8d" stroke-width="0.8"/>
<circle cx="639.5" cy="466.5" r="2.6" fill="none" stroke="#677a8d" stroke-width="0.8"/>
<circle cx="648.5" cy="466" r="3.3" fill="none" stroke="#677a8d" stroke-width="0.8"/>
<line x1="632.4" y1="475.3" x2="654.4" y2="475.3" stroke="#677a8d" stroke-width="0.7" />
<line x1="643" y1="475.3" x2="643" y2="502" stroke="#677a8d" stroke-width="0.7" />
<line x1="632.4" y1="448" x2="654.4" y2="448" stroke="#677a8d" stroke-width="0.7" />
<rect x="588.4" y="481.2" width="35.8" height="20.8" fill="none" stroke="#677a8d" stroke-width="0.8" />
<rect x="591" y="484" width="12" height="15" fill="none" stroke="#677a8d" stroke-width="0.8" />
<path d="M606 484H614 A7.5 7.5 0 0 1 614 499H606Z" fill="none" stroke="#677a8d" stroke-width="0.8" />
<line x1="606" y1="486.5" x2="619" y2="486.5" stroke="#677a8d" stroke-width="0.6" />
<line x1="606" y1="489.5" x2="619" y2="489.5" stroke="#677a8d" stroke-width="0.6" />
<line x1="606" y1="492.5" x2="619" y2="492.5" stroke="#677a8d" stroke-width="0.6" />
<line x1="606" y1="495.5" x2="619" y2="495.5" stroke="#677a8d" stroke-width="0.6" />
<line x1="571.4" y1="480.2" x2="571.4" y2="501.5" stroke="#677a8d" stroke-width="0.8" />
<rect x="606.1" y="326.7" width="19.4" height="35.7" fill="#bfd4e8" stroke="#1c2624" stroke-width="0.9" />
<path d="M607 362.2H625.3V328Q624 361 607 362.2Z" fill="#1e2b28"/>
<rect x="606.1" y="365" width="19.4" height="15.7" fill="#bfd4e8" stroke="#1c2624" stroke-width="0.8" />
<path d="M610 370H613V368H619V370H622V376H619V378H613V376H610Z M613 370V376M619 370V376" fill="none" stroke="#677a8d" stroke-width="0.8" />
<circle cx="616" cy="373" r="2.6" fill="none" stroke="#677a8d" stroke-width="0.7"/>
<rect x="579.5" y="327.6" width="21.1" height="22" fill="none" stroke="#677a8d" stroke-width="0.8" />
<circle cx="588.7" cy="337.6" r="6" fill="none" stroke="#677a8d" stroke-width="0.8"/>
<rect x="578" y="348" width="22.6" height="3" fill="none" stroke="#677a8d" stroke-width="0.6" />
<line x1="530.6" y1="367.4" x2="530.6" y2="501.5" stroke="#35dcc6" stroke-width="1" />
<rect x="337.05" y="102.05" width="49.65" height="13.15" fill="none" stroke="#1c2624" stroke-width="2.8" />
<rect x="440.8" y="102.05" width="66.4" height="13.15" fill="none" stroke="#1c2624" stroke-width="2.8" />
<rect x="562.3" y="102.05" width="48.4" height="13.15" fill="none" stroke="#1c2624" stroke-width="2.8" />
<rect x="337.05" y="102.05" width="13.3" height="175.05" fill="none" stroke="#1c2624" stroke-width="2.8" />
<rect x="337.05" y="308.5" width="13.3" height="206.7" fill="none" stroke="#1c2624" stroke-width="2.8" />
<rect x="337.05" y="501.8" width="49.35" height="13.4" fill="none" stroke="#1c2624" stroke-width="2.8" />
<rect x="494.6" y="501.8" width="80.4" height="13.4" fill="none" stroke="#1c2624" stroke-width="2.8" />
<rect x="629.3" y="501.8" width="35.65" height="13.4" fill="none" stroke="#1c2624" stroke-width="2.8" />
<rect x="602.8" y="102.05" width="7.9" height="169.95" fill="none" stroke="#1c2624" stroke-width="2.8" />
<rect x="602.8" y="308.1" width="7.9" height="9" fill="none" stroke="#1c2624" stroke-width="2.8" />
<rect x="477.05" y="115.8" width="3.65" height="107.9" fill="none" stroke="#1c2624" stroke-width="2.8" />
<rect x="477.05" y="258.8" width="3.65" height="25.3" fill="none" stroke="#1c2624" stroke-width="2.8" />
<rect x="477.05" y="318.3" width="3.65" height="48.7" fill="none" stroke="#1c2624" stroke-width="2.8" />
<rect x="350.95" y="264.5" width="129.75" height="7.4" fill="none" stroke="#1c2624" stroke-width="2.8" />
<rect x="350.95" y="363.6" width="129.75" height="3.4" fill="none" stroke="#1c2624" stroke-width="2.8" />
<rect x="481.3" y="214.3" width="23" height="4.4" fill="none" stroke="#1c2624" stroke-width="2.8" />
<rect x="538.3" y="214.3" width="9.4" height="4.4" fill="none" stroke="#1c2624" stroke-width="2.8" />
<rect x="544.3" y="214.3" width="3.4" height="39.6" fill="none" stroke="#1c2624" stroke-width="2.8" />
<rect x="544.3" y="250.6" width="57.9" height="3.3" fill="none" stroke="#1c2624" stroke-width="2.8" />
<rect x="530.3" y="317.7" width="94.9" height="8.7" fill="none" stroke="#1c2624" stroke-width="2.8" />
<rect x="530.3" y="327" width="4.1" height="36.7" fill="none" stroke="#1c2624" stroke-width="2.8" />
<rect x="547.8" y="380.5" width="18.6" height="3.6" fill="none" stroke="#1c2624" stroke-width="2.8" />
<rect x="601.8" y="327" width="4" height="57.1" fill="none" stroke="#1c2624" stroke-width="2.8" />
<rect x="598.2" y="380.5" width="7.6" height="3.6" fill="none" stroke="#1c2624" stroke-width="2.8" />
<rect x="606.4" y="362.7" width="18.8" height="2" fill="none" stroke="#1c2624" stroke-width="2.8" />
<rect x="606.4" y="381" width="18.8" height="3.1" fill="none" stroke="#1c2624" stroke-width="2.8" />
<rect x="654.7" y="402.3" width="8.5" height="99.4" fill="none" stroke="#1c2624" stroke-width="2.8" />
<polygon points="530,364 534.7,364 551,380.2 547.5,384.4" fill="none" stroke="#1c2624" stroke-width="2.6"/>
<rect x="336.75" y="101.75" width="50.25" height="13.75" fill="#bfd4e8" stroke="none" stroke-width="1" />
<rect x="440.5" y="101.75" width="67" height="13.75" fill="#bfd4e8" stroke="none" stroke-width="1" />
<rect x="562" y="101.75" width="49" height="13.75" fill="#bfd4e8" stroke="none" stroke-width="1" />
<rect x="336.75" y="101.75" width="13.9" height="175.65" fill="#bfd4e8" stroke="none" stroke-width="1" />
<rect x="336.75" y="308.2" width="13.9" height="207.3" fill="#bfd4e8" stroke="none" stroke-width="1" />
<rect x="336.75" y="501.5" width="49.95" height="14" fill="#bfd4e8" stroke="none" stroke-width="1" />
<rect x="494.3" y="501.5" width="81" height="14" fill="#bfd4e8" stroke="none" stroke-width="1" />
<rect x="629" y="501.5" width="36.25" height="14" fill="#bfd4e8" stroke="none" stroke-width="1" />
<rect x="602.5" y="101.75" width="8.5" height="170.55" fill="#bfd4e8" stroke="none" stroke-width="1" />
<rect x="602.5" y="307.8" width="8.5" height="9.6" fill="#bfd4e8" stroke="none" stroke-width="1" />
<rect x="476.75" y="115.5" width="4.25" height="108.5" fill="#bfd4e8" stroke="none" stroke-width="1" />
<rect x="476.75" y="258.5" width="4.25" height="25.9" fill="#bfd4e8" stroke="none" stroke-width="1" />
<rect x="476.75" y="318" width="4.25" height="49.3" fill="#bfd4e8" stroke="none" stroke-width="1" />
<rect x="350.65" y="264.2" width="130.35" height="8" fill="#bfd4e8" stroke="none" stroke-width="1" />
<rect x="350.65" y="363.3" width="130.35" height="4" fill="#bfd4e8" stroke="none" stroke-width="1" />
<rect x="481" y="214" width="23.6" height="5" fill="#bfd4e8" stroke="none" stroke-width="1" />
<rect x="538" y="214" width="10" height="5" fill="#bfd4e8" stroke="none" stroke-width="1" />
<rect x="544" y="214" width="4" height="40.2" fill="#bfd4e8" stroke="none" stroke-width="1" />
<rect x="544" y="250.3" width="58.5" height="3.9" fill="#bfd4e8" stroke="none" stroke-width="1" />
<rect x="530" y="317.4" width="95.5" height="9.3" fill="#bfd4e8" stroke="none" stroke-width="1" />
<rect x="530" y="326.7" width="4.7" height="37.3" fill="#bfd4e8" stroke="none" stroke-width="1" />
<rect x="547.5" y="380.2" width="19.2" height="4.2" fill="#bfd4e8" stroke="none" stroke-width="1" />
<rect x="601.5" y="326.7" width="4.6" height="57.7" fill="#bfd4e8" stroke="none" stroke-width="1" />
<rect x="597.9" y="380.2" width="8.2" height="4.2" fill="#bfd4e8" stroke="none" stroke-width="1" />
<rect x="606.1" y="362.4" width="19.4" height="2.6" fill="#bfd4e8" stroke="none" stroke-width="1" />
<rect x="606.1" y="380.7" width="19.4" height="3.7" fill="#bfd4e8" stroke="none" stroke-width="1" />
<rect x="654.4" y="402" width="9.1" height="100" fill="#bfd4e8" stroke="none" stroke-width="1" />
<polygon points="530,364 534.7,364 551,380.2 547.5,384.4" fill="#bfd4e8"/>
<rect x="336.75" y="101.75" width="50.25" height="13.75" fill="url(#hR)" stroke="none" stroke-width="1" />
<rect x="440.5" y="101.75" width="67" height="13.75" fill="url(#hR)" stroke="none" stroke-width="1" />
<rect x="562" y="101.75" width="49" height="13.75" fill="url(#hR)" stroke="none" stroke-width="1" />
<rect x="336.75" y="101.75" width="13.9" height="175.65" fill="url(#hR)" stroke="none" stroke-width="1" />
<rect x="336.75" y="308.2" width="13.9" height="207.3" fill="url(#hR)" stroke="none" stroke-width="1" />
<rect x="336.75" y="501.5" width="49.95" height="14" fill="url(#hR)" stroke="none" stroke-width="1" />
<rect x="494.3" y="501.5" width="81" height="14" fill="url(#hR)" stroke="none" stroke-width="1" />
<rect x="629" y="501.5" width="36.25" height="14" fill="url(#hR)" stroke="none" stroke-width="1" />
<rect x="602.5" y="101.75" width="8.5" height="170.55" fill="url(#hR)" stroke="none" stroke-width="1" />
<rect x="602.5" y="307.8" width="8.5" height="9.6" fill="url(#hR)" stroke="none" stroke-width="1" />
<rect x="476.75" y="115.5" width="4.25" height="108.5" fill="url(#hR)" stroke="none" stroke-width="1" />
<rect x="476.75" y="258.5" width="4.25" height="25.9" fill="url(#hR)" stroke="none" stroke-width="1" />
<rect x="476.75" y="318" width="4.25" height="49.3" fill="url(#hR)" stroke="none" stroke-width="1" />
<rect x="350.65" y="264.2" width="130.35" height="8" fill="url(#hR)" stroke="none" stroke-width="1" />
<rect x="350.65" y="363.3" width="130.35" height="4" fill="url(#hR)" stroke="none" stroke-width="1" />
<rect x="481" y="214" width="23.6" height="5" fill="url(#hR)" stroke="none" stroke-width="1" />
<rect x="538" y="214" width="10" height="5" fill="url(#hR)" stroke="none" stroke-width="1" />
<rect x="544" y="214" width="4" height="40.2" fill="url(#hR)" stroke="none" stroke-width="1" />
<rect x="544" y="250.3" width="58.5" height="3.9" fill="url(#hR)" stroke="none" stroke-width="1" />
<rect x="530" y="317.4" width="95.5" height="9.3" fill="url(#hR)" stroke="none" stroke-width="1" />
<rect x="530" y="326.7" width="4.7" height="37.3" fill="url(#hR)" stroke="none" stroke-width="1" />
<rect x="547.5" y="380.2" width="19.2" height="4.2" fill="url(#hR)" stroke="none" stroke-width="1" />
<rect x="601.5" y="326.7" width="4.6" height="57.7" fill="url(#hR)" stroke="none" stroke-width="1" />
<rect x="597.9" y="380.2" width="8.2" height="4.2" fill="url(#hR)" stroke="none" stroke-width="1" />
<rect x="606.1" y="362.4" width="19.4" height="2.6" fill="url(#hR)" stroke="none" stroke-width="1" />
<rect x="606.1" y="380.7" width="19.4" height="3.7" fill="url(#hR)" stroke="none" stroke-width="1" />
<rect x="654.4" y="402" width="9.1" height="100" fill="url(#hR)" stroke="none" stroke-width="1" />
<polygon points="530,364 534.7,364 551,380.2 547.5,384.4" fill="url(#hR)"/>
<rect x="663.5" y="402" width="1.75" height="100" fill="#15201d" stroke="none" stroke-width="1" />
<rect x="387" y="101.75" width="53.5" height="13.55" fill="#bfd4e8" stroke="#1c2624" stroke-width="0.9" />
<line x1="387" y1="106.2" x2="440.5" y2="106.2" stroke="#1c2624" stroke-width="0.95" />
<line x1="387" y1="109.4" x2="440.5" y2="109.4" stroke="#1c2624" stroke-width="0.95" />
<line x1="389.6" y1="106.2" x2="389.6" y2="109.4" stroke="#1c2624" stroke-width="0.9" />
<line x1="437.6" y1="106.2" x2="437.6" y2="109.4" stroke="#1c2624" stroke-width="0.9" />
<line x1="411.45" y1="106.2" x2="411.45" y2="109.4" stroke="#1c2624" stroke-width="0.9" />
<line x1="416.05" y1="106.2" x2="416.05" y2="109.4" stroke="#1c2624" stroke-width="0.9" />
<rect x="507.5" y="101.75" width="54.5" height="13.55" fill="#bfd4e8" stroke="#1c2624" stroke-width="0.9" />
<line x1="507.5" y1="106.2" x2="562" y2="106.2" stroke="#1c2624" stroke-width="0.95" />
<line x1="507.5" y1="109.4" x2="562" y2="109.4" stroke="#1c2624" stroke-width="0.95" />
<line x1="510.1" y1="106.2" x2="510.1" y2="109.4" stroke="#1c2624" stroke-width="0.9" />
<line x1="559.1" y1="106.2" x2="559.1" y2="109.4" stroke="#1c2624" stroke-width="0.9" />
<line x1="532.45" y1="106.2" x2="532.45" y2="109.4" stroke="#1c2624" stroke-width="0.9" />
<line x1="537.05" y1="106.2" x2="537.05" y2="109.4" stroke="#1c2624" stroke-width="0.9" />
<rect x="386.7" y="501.5" width="107.6" height="14" fill="#bfd4e8" stroke="#1c2624" stroke-width="0.9" />
<line x1="386.7" y1="508.5" x2="494.3" y2="508.5" stroke="#1c2624" stroke-width="0.95" />
<line x1="386.7" y1="510.4" x2="494.3" y2="510.4" stroke="#1c2624" stroke-width="0.95" />
<line x1="389.3" y1="508.5" x2="389.3" y2="510.4" stroke="#1c2624" stroke-width="0.9" />
<line x1="491.7" y1="508.5" x2="491.7" y2="510.4" stroke="#1c2624" stroke-width="0.9" />
<rect x="575.3" y="501.5" width="53.7" height="14" fill="#bfd4e8" stroke="#1c2624" stroke-width="0.9" />
<line x1="575.3" y1="508.5" x2="629" y2="508.5" stroke="#1c2624" stroke-width="0.95" />
<line x1="575.3" y1="510.4" x2="629" y2="510.4" stroke="#1c2624" stroke-width="0.95" />
<line x1="577.9" y1="508.5" x2="577.9" y2="510.4" stroke="#1c2624" stroke-width="0.9" />
<line x1="626.4" y1="508.5" x2="626.4" y2="510.4" stroke="#1c2624" stroke-width="0.9" />
<line x1="422.8" y1="508.5" x2="422.8" y2="510.4" stroke="#1c2624" stroke-width="0.9" />
<line x1="425.5" y1="508.5" x2="425.5" y2="510.4" stroke="#1c2624" stroke-width="0.9" />
<line x1="456" y1="508.5" x2="456" y2="510.4" stroke="#1c2624" stroke-width="0.9" />
<line x1="458.9" y1="508.5" x2="458.9" y2="510.4" stroke="#1c2624" stroke-width="0.9" />
<line x1="599.5" y1="508.5" x2="599.5" y2="510.4" stroke="#1c2624" stroke-width="0.9" />
<line x1="602.4" y1="508.5" x2="602.4" y2="510.4" stroke="#1c2624" stroke-width="0.9" />
<line x1="604.1" y1="508.5" x2="604.1" y2="510.4" stroke="#1c2624" stroke-width="0.9" />
<rect x="336.75" y="277.4" width="13.9" height="30.8" fill="#bfd4e8" stroke="#1c2624" stroke-width="0.9" />
<line x1="341.8" y1="277.4" x2="341.8" y2="308.2" stroke="#1c2624" stroke-width="0.7" />
<line x1="344.1" y1="277.4" x2="344.1" y2="308.2" stroke="#1c2624" stroke-width="0.7" />
<path d="M350.9 272.7H357.2V308.2H350.9" fill="none" stroke="#1c2624" stroke-width="1.3" />
<path d="M352.6 274.2H355.5V306.5H352.6" fill="none" stroke="#1c2624" stroke-width="0.9" />
<path d="M477 224.5 A34 34 0 0 0 443 258.5" fill="none" stroke="#1c2624" stroke-width="1" />
<line x1="443" y1="258.5" x2="477" y2="258.5" stroke="#677a8d" stroke-width="0.6" />
<line x1="442.2" y1="284.4" x2="476.6" y2="284.4" stroke="#1c2624" stroke-width="0.9" />
<path d="M442.2 284.4 A34.4 34.4 0 0 0 476.6 318.8" fill="none" stroke="#1c2624" stroke-width="1" />
<line x1="504.6" y1="180" x2="504.6" y2="214" stroke="#1c2624" stroke-width="1" />
<path d="M504.6 180 A34 34 0 0 1 538.6 214" fill="none" stroke="#1c2624" stroke-width="1" />
<line x1="576" y1="305" x2="603" y2="305" stroke="#1c2624" stroke-width="0.9" />
<path d="M576 305 A27 27 0 0 1 603 278" fill="none" stroke="#1c2624" stroke-width="1" />
<rect x="602.5" y="272.3" width="3.5" height="3.7" fill="#bfd4e8" stroke="#1c2624" stroke-width="0.6" />
<rect x="602.5" y="304" width="3.5" height="3.8" fill="#bfd4e8" stroke="#1c2624" stroke-width="0.6" />
<line x1="596" y1="384.4" x2="596" y2="413.5" stroke="#1c2624" stroke-width="0.9" />
<path d="M566.7 384.4 A29.3 29.3 0 0 0 596 413.7" fill="none" stroke="#1c2624" stroke-width="1" />
<line x1="491.7" y1="474.5" x2="491.7" y2="501.5" stroke="#1c2624" stroke-width="1" />
<path d="M491.7 474.5 A34 34 0 0 0 457.7 508.5" fill="none" stroke="#1c2624" stroke-width="1" /></g>
<rect x="611" y="97" width="108.5" height="220.4" fill="#fff" stroke="none" stroke-width="1" />
<rect x="597.5" y="83.6" width="23.1" height="13.4" fill="#fff" stroke="none" stroke-width="1" />
<rect x="597.5" y="83.6" width="23.1" height="13.4" fill="url(#hL)" stroke="none" stroke-width="1" />
<rect x="597.5" y="97" width="13.5" height="4.75" fill="#fff" stroke="none" stroke-width="1" />
<rect x="597.5" y="97" width="13.5" height="4.75" fill="url(#hL)" stroke="none" stroke-width="1" />
<rect x="710" y="83.6" width="23" height="13.4" fill="#fff" stroke="none" stroke-width="1" />
<rect x="710" y="83.6" width="23" height="13.4" fill="url(#hL)" stroke="none" stroke-width="1" />
<rect x="719.5" y="97" width="13.5" height="4.75" fill="#fff" stroke="none" stroke-width="1" />
<rect x="719.5" y="97" width="13.5" height="4.75" fill="url(#hL)" stroke="none" stroke-width="1" />
<rect x="620.6" y="83.6" width="89.4" height="13.4" fill="#fff" stroke="#1c2624" stroke-width="0.9" />
<line x1="620.6" y1="88.8" x2="710" y2="88.8" stroke="#1c2624" stroke-width="0.95" />
<line x1="620.6" y1="91.6" x2="710" y2="91.6" stroke="#1c2624" stroke-width="0.95" />
<line x1="623.2" y1="88.8" x2="623.2" y2="91.6" stroke="#1c2624" stroke-width="0.9" />
<line x1="663.2" y1="88.8" x2="663.2" y2="91.6" stroke="#1c2624" stroke-width="0.9" />
<line x1="666.8" y1="88.8" x2="666.8" y2="91.6" stroke="#1c2624" stroke-width="0.9" />
<line x1="707.4" y1="88.8" x2="707.4" y2="91.6" stroke="#1c2624" stroke-width="0.9" />
<path d="M611 101.75V97H620.6M710 97H719.5V101.75" fill="none" stroke="#1c2624" stroke-width="1" />
<line x1="611" y1="97" x2="611" y2="272.3" stroke="#1c2624" stroke-width="1" />
<line x1="719.5" y1="97" x2="719.5" y2="272.3" stroke="#1c2624" stroke-width="1" />
<rect x="665.5" y="142" width="7.7" height="109" fill="#fff" stroke="#1c2624" stroke-width="0.9" />
<rect x="665.5" y="142" width="7.7" height="109" fill="url(#hL)" stroke="none" stroke-width="1" />
<rect x="665.5" y="142" width="7.7" height="3" fill="#fff" stroke="#1c2624" stroke-width="0.7" />
<line x1="675" y1="148.3" x2="719.5" y2="148.3" stroke="#1a1a1a" stroke-width="1" stroke-dasharray="4.5 2.5"/>
<line x1="675" y1="157.3" x2="719.5" y2="157.3" stroke="#1a1a1a" stroke-width="1" stroke-dasharray="4.5 2.5"/>
<line x1="675" y1="167" x2="719.5" y2="167" stroke="#1a1a1a" stroke-width="1" stroke-dasharray="4.5 2.5"/>
<line x1="675" y1="176" x2="719.5" y2="176" stroke="#1a1a1a" stroke-width="1" stroke-dasharray="4.5 2.5"/>
<line x1="675" y1="185" x2="719.5" y2="185" stroke="#1a1a1a" stroke-width="1" stroke-dasharray="4.5 2.5"/>
<line x1="675" y1="194.5" x2="719.5" y2="194.5" stroke="#1a1a1a" stroke-width="1" stroke-dasharray="4.5 2.5"/>
<line x1="675" y1="203.8" x2="719.5" y2="203.8" stroke="#1a1a1a" stroke-width="1" stroke-dasharray="4.5 2.5"/>
<line x1="675" y1="213.4" x2="719.5" y2="213.4" stroke="#1a1a1a" stroke-width="1" stroke-dasharray="4.5 2.5"/>
<line x1="675" y1="223.3" x2="719.5" y2="223.3" stroke="#1a1a1a" stroke-width="1" stroke-dasharray="4.5 2.5"/>
<line x1="675" y1="232.9" x2="719.5" y2="232.9" stroke="#1a1a1a" stroke-width="1" stroke-dasharray="4.5 2.5"/>
<line x1="675" y1="241.9" x2="719.5" y2="241.9" stroke="#1a1a1a" stroke-width="1" stroke-dasharray="4.5 2.5"/>
<line x1="675" y1="251.5" x2="719.5" y2="251.5" stroke="#1a1a1a" stroke-width="1" stroke-dasharray="4.5 2.5"/>
<line x1="674.5" y1="146" x2="674.5" y2="251.5" stroke="#111" stroke-width="1.5" stroke-dasharray="3 2.5"/>
<line x1="668" y1="97" x2="668" y2="141" stroke="#1c2624" stroke-width="1" />
<line x1="686" y1="97.5" x2="672" y2="140" stroke="#1c2624" stroke-width="1" />
<line x1="705" y1="97.5" x2="674" y2="142" stroke="#1c2624" stroke-width="1" />
<line x1="719.5" y1="111.5" x2="673.5" y2="144.4" stroke="#1c2624" stroke-width="1" />
<line x1="719.5" y1="111.5" x2="673.5" y2="162.4" stroke="#1c2624" stroke-width="1" />
<line x1="719.5" y1="119" x2="673.5" y2="170" stroke="#1c2624" stroke-width="1" />
<line x1="673.5" y1="146" x2="692.4" y2="135.5" stroke="#1c2624" stroke-width="1" />
<path d="M668.4 119 A24 24 0 0 1 692.4 131" fill="none" stroke="#1c2624" stroke-width="0.7" />
<circle cx="668.6" cy="120" r="1.3" fill="#fff" stroke="#1c2624" stroke-width="0.6"/>
<polygon points="688,132.5 701.4,131.6 695.4,138.5" fill="#1fb58a" stroke="#0d5a45" stroke-width="0.5"/>
<line x1="703" y1="132.5" x2="719.5" y2="129.5" stroke="#1c2624" stroke-width="1" stroke-dasharray="3 2.5"/>
<line x1="697" y1="150" x2="697" y2="244" stroke="#1c2624" stroke-width="0.8" stroke-dasharray="4 3"/>
<polygon points="689.5,244 704.2,244 697,250.7" fill="#1fb58a" stroke="#0d5a45" stroke-width="0.5"/>
<text x="694.6" y="179" font-size="6.8" fill="#1d2236" text-anchor="middle" transform="rotate(-90 694.6 179)">17 STG</text>
<text x="702.3" y="176" font-size="6.8" fill="#1d2236" text-anchor="middle" transform="rotate(-90 702.3 176)">17/24 cm / 26 cm</text>
<rect x="625.5" y="317.4" width="79.5" height="84.6" fill="#fff" stroke="#111" stroke-width="1.4" />
<rect x="625.5" y="317.4" width="79.5" height="84.6" fill="url(#hLift)" stroke="none" stroke-width="1" />
<rect x="633.3" y="327" width="63.9" height="67" fill="#fff" stroke="#111" stroke-width="1" />
<rect x="645.3" y="316.4" width="39.9" height="10.2" fill="#fff" stroke="none" stroke-width="1" />
<path d="M645.3 317V324.3H652 M685.2 317V324.3H678.5" fill="none" stroke="#111" stroke-width="1" />
<rect x="652" y="324.8" width="26.5" height="2.5" fill="#111" stroke="none" stroke-width="1" />
<line x1="633.3" y1="327" x2="697.2" y2="327" stroke="#111" stroke-width="0.9" />
<line x1="633.3" y1="389.5" x2="697.2" y2="389.5" stroke="#111" stroke-width="0.8" />
<line x1="650" y1="391.5" x2="680" y2="391.5" stroke="#111" stroke-width="1.3" />
<text x="665.3" y="344.5" font-size="12.5" fill="#7a8090" text-anchor="middle" >LIFT</text>
<circle cx="665.4" cy="358" r="11" fill="none" stroke="#1c2624" stroke-width="1.1"/><text x="665.4" y="362.5" font-size="12.5" fill="#1d2236" text-anchor="middle">G</text>
<path d="M337 101.65H598V84H732.5V101.65H993.4V515.75H337Z" fill="none" stroke="#111a18" stroke-width="1.6"/>
<g class="lb">
<rect x="364.3" y="156.2" width="58.1" height="42" fill="none" stroke="#1c2624" stroke-width="1" />
<text x="368.9" y="163.6" font-size="7.3" fill="#1d2236">Eltern</text>
<text x="368.9" y="174.6" font-size="7.3" fill="#1d2236">1.OG-04/ WO5</text>
<text x="368.9" y="184.8" font-size="7.3" fill="#1d2236">NRF:</text>
<text x="368.9" y="195.5" font-size="7.3" fill="#1d2236">WF:</text>
<text x="406.6" y="184.8" font-size="7.3" fill="#1d2236" text-anchor="end">14,51</text>
<text x="406.6" y="195.5" font-size="7.3" fill="#1d2236" text-anchor="end">14,22</text>
<text x="408.7" y="184.8" font-size="7.3" fill="#1d2236">m</text>
<text x="414.7" y="181.8" font-size="5" fill="#1d2236">2</text>
<text x="408.7" y="195.5" font-size="7.3" fill="#1d2236">m</text>
<text x="414.7" y="192.5" font-size="5" fill="#1d2236">2</text>
</g>
<g class="lb">
<rect x="907.8" y="157.4" width="58.8" height="42.9" fill="none" stroke="#1c2624" stroke-width="1" />
<text x="912.4" y="164.8" font-size="7.3" fill="#1d2236">Eltern</text>
<text x="912.4" y="175.8" font-size="7.3" fill="#1d2236">1.OG-13/ WO6</text>
<text x="912.4" y="186" font-size="7.3" fill="#1d2236">NRF:</text>
<text x="912.4" y="196.7" font-size="7.3" fill="#1d2236">WF:</text>
<text x="950.1" y="186" font-size="7.3" fill="#1d2236" text-anchor="end">14,51</text>
<text x="950.1" y="196.7" font-size="7.3" fill="#1d2236" text-anchor="end">14,22</text>
<text x="952.2" y="186" font-size="7.3" fill="#1d2236">m</text>
<text x="958.2" y="183" font-size="5" fill="#1d2236">2</text>
<text x="952.2" y="196.7" font-size="7.3" fill="#1d2236">m</text>
<text x="958.2" y="193.7" font-size="5" fill="#1d2236">2</text>
</g>
<circle cx="433" cy="179.5" r="11" fill="none" stroke="#1c2624" stroke-width="1.1"/><text x="433" y="184" font-size="12.5" fill="#1d2236" text-anchor="middle">5</text>
<circle cx="897.5" cy="182.3" r="11" fill="none" stroke="#1c2624" stroke-width="1.1"/><text x="897.5" y="186.8" font-size="12.5" fill="#1d2236" text-anchor="middle">6</text>
<g class="lb">
<rect x="505" y="167.4" width="58.6" height="42" fill="none" stroke="#1c2624" stroke-width="1" />
<text x="509.6" y="174.8" font-size="7.3" fill="#1d2236">Kind 1</text>
<text x="509.6" y="185.8" font-size="7.3" fill="#1d2236">1.OG-03/ WO5</text>
<text x="509.6" y="196" font-size="7.3" fill="#1d2236">NRF:</text>
<text x="509.6" y="206.7" font-size="7.3" fill="#1d2236">WF:</text>
<text x="547.3" y="196" font-size="7.3" fill="#1d2236" text-anchor="end">10,85</text>
<text x="547.3" y="206.7" font-size="7.3" fill="#1d2236" text-anchor="end">10,64</text>
<text x="549.4" y="196" font-size="7.3" fill="#1d2236">m</text>
<text x="555.4" y="193" font-size="5" fill="#1d2236">2</text>
<text x="549.4" y="206.7" font-size="7.3" fill="#1d2236">m</text>
<text x="555.4" y="203.7" font-size="5" fill="#1d2236">2</text>
</g>
<g class="lb">
<rect x="768.3" y="166.3" width="58.2" height="42.5" fill="none" stroke="#1c2624" stroke-width="1" />
<text x="772.9" y="173.7" font-size="7.3" fill="#1d2236">Kind 1</text>
<text x="772.9" y="184.7" font-size="7.3" fill="#1d2236">1.OG-12/ WO6</text>
<text x="772.9" y="194.9" font-size="7.3" fill="#1d2236">NRF:</text>
<text x="772.9" y="205.6" font-size="7.3" fill="#1d2236">WF:</text>
<text x="810.6" y="194.9" font-size="7.3" fill="#1d2236" text-anchor="end">10,85</text>
<text x="810.6" y="205.6" font-size="7.3" fill="#1d2236" text-anchor="end">10,64</text>
<text x="812.7" y="194.9" font-size="7.3" fill="#1d2236">m</text>
<text x="818.7" y="191.9" font-size="5" fill="#1d2236">2</text>
<text x="812.7" y="205.6" font-size="7.3" fill="#1d2236">m</text>
<text x="818.7" y="202.6" font-size="5" fill="#1d2236">2</text>
</g>
<circle cx="544" cy="155.6" r="11" fill="none" stroke="#1c2624" stroke-width="1.1"/><text x="544" y="160.1" font-size="12.5" fill="#1d2236" text-anchor="middle">5</text>
<circle cx="788.5" cy="155.5" r="11" fill="none" stroke="#1c2624" stroke-width="1.1"/><text x="788.5" y="160" font-size="12.5" fill="#1d2236" text-anchor="middle">6</text>
<g class="lb">
<rect x="396.3" y="293.5" width="57.4" height="41.8" fill="none" stroke="#1c2624" stroke-width="1" />
<text x="400.9" y="300.9" font-size="7.3" fill="#1d2236">Bad</text>
<text x="400.9" y="311.9" font-size="7.3" fill="#1d2236">1.OG-05/ WO5</text>
<text x="400.9" y="322.1" font-size="7.3" fill="#1d2236">NRF:</text>
<text x="400.9" y="332.8" font-size="7.3" fill="#1d2236">WF:</text>
<text x="438.6" y="322.1" font-size="7.3" fill="#1d2236" text-anchor="end">8,61</text>
<text x="438.6" y="332.8" font-size="7.3" fill="#1d2236" text-anchor="end">8,44</text>
<text x="440.7" y="322.1" font-size="7.3" fill="#1d2236">m</text>
<text x="446.7" y="319.1" font-size="5" fill="#1d2236">2</text>
<text x="440.7" y="332.8" font-size="7.3" fill="#1d2236">m</text>
<text x="446.7" y="329.8" font-size="5" fill="#1d2236">2</text>
</g>
<g class="lb">
<rect x="876.8" y="293.5" width="57.4" height="41.8" fill="none" stroke="#1c2624" stroke-width="1" />
<text x="881.4" y="300.9" font-size="7.3" fill="#1d2236">Bad</text>
<text x="881.4" y="311.9" font-size="7.3" fill="#1d2236">1.OG-14/ WO6</text>
<text x="881.4" y="322.1" font-size="7.3" fill="#1d2236">NRF:</text>
<text x="881.4" y="332.8" font-size="7.3" fill="#1d2236">WF:</text>
<text x="919.1" y="322.1" font-size="7.3" fill="#1d2236" text-anchor="end">8,61</text>
<text x="919.1" y="332.8" font-size="7.3" fill="#1d2236" text-anchor="end">8,44</text>
<text x="921.2" y="322.1" font-size="7.3" fill="#1d2236">m</text>
<text x="927.2" y="319.1" font-size="5" fill="#1d2236">2</text>
<text x="921.2" y="332.8" font-size="7.3" fill="#1d2236">m</text>
<text x="927.2" y="329.8" font-size="5" fill="#1d2236">2</text>
</g>
<circle cx="464.7" cy="322.5" r="11" fill="none" stroke="#1c2624" stroke-width="1.1"/><text x="464.7" y="327" font-size="12.5" fill="#1d2236" text-anchor="middle">5</text>
<circle cx="866.5" cy="324" r="11" fill="none" stroke="#1c2624" stroke-width="1.1"/><text x="866.5" y="328.5" font-size="12.5" fill="#1d2236" text-anchor="middle">6</text>
<g class="lb">
<rect x="545.2" y="264.4" width="57.4" height="42.9" fill="none" stroke="#1c2624" stroke-width="1" />
<text x="549.8" y="271.8" font-size="7.3" fill="#1d2236">Windfang</text>
<text x="549.8" y="282.8" font-size="7.3" fill="#1d2236">1.OG-02/ WO5</text>
<text x="549.8" y="293" font-size="7.3" fill="#1d2236">NRF:</text>
<text x="549.8" y="303.7" font-size="7.3" fill="#1d2236">WF:</text>
<text x="587.5" y="293" font-size="7.3" fill="#1d2236" text-anchor="end">2,86</text>
<text x="587.5" y="303.7" font-size="7.3" fill="#1d2236" text-anchor="end">2,80</text>
<text x="589.6" y="293" font-size="7.3" fill="#1d2236">m</text>
<text x="595.6" y="290" font-size="5" fill="#1d2236">2</text>
<text x="589.6" y="303.7" font-size="7.3" fill="#1d2236">m</text>
<text x="595.6" y="300.7" font-size="5" fill="#1d2236">2</text>
</g>
<g class="lb">
<rect x="727.9" y="264.4" width="57.4" height="42.9" fill="none" stroke="#1c2624" stroke-width="1" />
<text x="732.5" y="271.8" font-size="7.3" fill="#1d2236">Windfang</text>
<text x="732.5" y="282.8" font-size="7.3" fill="#1d2236">1.OG-02/ WO6</text>
<text x="732.5" y="293" font-size="7.3" fill="#1d2236">NRF:</text>
<text x="732.5" y="303.7" font-size="7.3" fill="#1d2236">WF:</text>
<text x="770.2" y="293" font-size="7.3" fill="#1d2236" text-anchor="end">2,86</text>
<text x="770.2" y="303.7" font-size="7.3" fill="#1d2236" text-anchor="end">2,80</text>
<text x="772.3" y="293" font-size="7.3" fill="#1d2236">m</text>
<text x="778.3" y="290" font-size="5" fill="#1d2236">2</text>
<text x="772.3" y="303.7" font-size="7.3" fill="#1d2236">m</text>
<text x="778.3" y="300.7" font-size="5" fill="#1d2236">2</text>
</g>
<circle cx="534.5" cy="267.5" r="11" fill="none" stroke="#1c2624" stroke-width="1.1"/><text x="534.5" y="272" font-size="12.5" fill="#1d2236" text-anchor="middle">5</text>
<circle cx="796" cy="267.5" r="11" fill="none" stroke="#1c2624" stroke-width="1.1"/><text x="796" y="272" font-size="12.5" fill="#1d2236" text-anchor="middle">6</text>
<g class="lb">
<rect x="542.4" y="329.4" width="57.6" height="41.2" fill="none" stroke="#1c2624" stroke-width="1" />
<text x="547" y="336.8" font-size="7.3" fill="#1d2236">SPK</text>
<text x="547" y="347.8" font-size="7.3" fill="#1d2236">1.OG-07/ WO5</text>
<text x="547" y="358" font-size="7.3" fill="#1d2236">NRF:</text>
<text x="547" y="368.7" font-size="7.3" fill="#1d2236">WF:</text>
<text x="584.7" y="358" font-size="7.3" fill="#1d2236" text-anchor="end">2,75</text>
<text x="584.7" y="368.7" font-size="7.3" fill="#1d2236" text-anchor="end">2,70</text>
<text x="586.8" y="358" font-size="7.3" fill="#1d2236">m</text>
<text x="592.8" y="355" font-size="5" fill="#1d2236">2</text>
<text x="586.8" y="368.7" font-size="7.3" fill="#1d2236">m</text>
<text x="592.8" y="365.7" font-size="5" fill="#1d2236">2</text>
</g>
<g class="lb">
<rect x="730.5" y="329.4" width="57.6" height="41.2" fill="none" stroke="#1c2624" stroke-width="1" />
<text x="735.1" y="336.8" font-size="7.3" fill="#1d2236">SPK</text>
<text x="735.1" y="347.8" font-size="7.3" fill="#1d2236">1.OG-16/ WO6</text>
<text x="735.1" y="358" font-size="7.3" fill="#1d2236">NRF:</text>
<text x="735.1" y="368.7" font-size="7.3" fill="#1d2236">WF:</text>
<text x="772.8" y="358" font-size="7.3" fill="#1d2236" text-anchor="end">2,75</text>
<text x="772.8" y="368.7" font-size="7.3" fill="#1d2236" text-anchor="end">2,70</text>
<text x="774.9" y="358" font-size="7.3" fill="#1d2236">m</text>
<text x="780.9" y="355" font-size="5" fill="#1d2236">2</text>
<text x="774.9" y="368.7" font-size="7.3" fill="#1d2236">m</text>
<text x="780.9" y="365.7" font-size="5" fill="#1d2236">2</text>
</g>
<g class="lb">
<rect x="400.3" y="408.3" width="58.3" height="42.2" fill="none" stroke="#1c2624" stroke-width="1" />
<text x="404.9" y="415.7" font-size="7.3" fill="#1d2236">Wohnen</text>
<text x="404.9" y="426.7" font-size="7.3" fill="#1d2236">1.OG-09/ WO5</text>
<text x="404.9" y="436.9" font-size="7.3" fill="#1d2236">NRF:</text>
<text x="404.9" y="447.6" font-size="7.3" fill="#1d2236">WF:</text>
<text x="442.6" y="436.9" font-size="7.3" fill="#1d2236" text-anchor="end">18,84</text>
<text x="442.6" y="447.6" font-size="7.3" fill="#1d2236" text-anchor="end">18,46</text>
<text x="444.7" y="436.9" font-size="7.3" fill="#1d2236">m</text>
<text x="450.7" y="433.9" font-size="5" fill="#1d2236">2</text>
<text x="444.7" y="447.6" font-size="7.3" fill="#1d2236">m</text>
<text x="450.7" y="444.6" font-size="5" fill="#1d2236">2</text>
</g>
<g class="lb">
<rect x="861.7" y="406.8" width="58.3" height="43.9" fill="none" stroke="#1c2624" stroke-width="1" />
<text x="866.3" y="414.2" font-size="7.3" fill="#1d2236">Wohnen</text>
<text x="866.3" y="425.2" font-size="7.3" fill="#1d2236">1.OG-18/ WO6</text>
<text x="866.3" y="435.4" font-size="7.3" fill="#1d2236">NRF:</text>
<text x="866.3" y="446.1" font-size="7.3" fill="#1d2236">WF:</text>
<text x="904" y="435.4" font-size="7.3" fill="#1d2236" text-anchor="end">18,84</text>
<text x="904" y="446.1" font-size="7.3" fill="#1d2236" text-anchor="end">18,46</text>
<text x="906.1" y="435.4" font-size="7.3" fill="#1d2236">m</text>
<text x="912.1" y="432.4" font-size="5" fill="#1d2236">2</text>
<text x="906.1" y="446.1" font-size="7.3" fill="#1d2236">m</text>
<text x="912.1" y="443.1" font-size="5" fill="#1d2236">2</text>
</g>
<circle cx="468.3" cy="430.7" r="11" fill="none" stroke="#1c2624" stroke-width="1.1"/><text x="468.3" y="435.2" font-size="12.5" fill="#1d2236" text-anchor="middle">5</text>
<circle cx="851.2" cy="427.5" r="11" fill="none" stroke="#1c2624" stroke-width="1.1"/><text x="851.2" y="432" font-size="12.5" fill="#1d2236" text-anchor="middle">6</text>
<g class="lb">
<rect x="564.6" y="422.5" width="58.1" height="41.8" fill="none" stroke="#1c2624" stroke-width="1" />
<text x="569.2" y="429.9" font-size="7.3" fill="#1d2236">K&#252;che</text>
<text x="569.2" y="440.9" font-size="7.3" fill="#1d2236">1.OG-08/ WO5</text>
<text x="569.2" y="451.1" font-size="7.3" fill="#1d2236">NRF:</text>
<text x="569.2" y="461.8" font-size="7.3" fill="#1d2236">WF:</text>
<text x="606.9" y="451.1" font-size="7.3" fill="#1d2236" text-anchor="end">10,99</text>
<text x="606.9" y="461.8" font-size="7.3" fill="#1d2236" text-anchor="end">10,77</text>
<text x="609" y="451.1" font-size="7.3" fill="#1d2236">m</text>
<text x="615" y="448.1" font-size="5" fill="#1d2236">2</text>
<text x="609" y="461.8" font-size="7.3" fill="#1d2236">m</text>
<text x="615" y="458.8" font-size="5" fill="#1d2236">2</text>
</g>
<g class="lb">
<rect x="707.8" y="422.5" width="58.1" height="41.8" fill="none" stroke="#1c2624" stroke-width="1" />
<text x="712.4" y="429.9" font-size="7.3" fill="#1d2236">K&#252;che</text>
<text x="712.4" y="440.9" font-size="7.3" fill="#1d2236">1.OG-17/ WO6</text>
<text x="712.4" y="451.1" font-size="7.3" fill="#1d2236">NRF:</text>
<text x="712.4" y="461.8" font-size="7.3" fill="#1d2236">WF:</text>
<text x="750.1" y="451.1" font-size="7.3" fill="#1d2236" text-anchor="end">10,99</text>
<text x="750.1" y="461.8" font-size="7.3" fill="#1d2236" text-anchor="end">10,77</text>
<text x="752.2" y="451.1" font-size="7.3" fill="#1d2236">m</text>
<text x="758.2" y="448.1" font-size="5" fill="#1d2236">2</text>
<text x="752.2" y="461.8" font-size="7.3" fill="#1d2236">m</text>
<text x="758.2" y="458.8" font-size="5" fill="#1d2236">2</text>
</g>
<circle cx="608.6" cy="411.5" r="11" fill="none" stroke="#1c2624" stroke-width="1.1"/><text x="608.6" y="416" font-size="12.5" fill="#1d2236" text-anchor="middle">5</text>
<circle cx="721.9" cy="411.5" r="11" fill="none" stroke="#1c2624" stroke-width="1.1"/><text x="721.9" y="416" font-size="12.5" fill="#1d2236" text-anchor="middle">6</text>
<circle cx="505.8" cy="346.3" r="11" fill="none" stroke="#1c2624" stroke-width="1.1"/><text x="505.8" y="350.8" font-size="12.5" fill="#1d2236" text-anchor="middle">5</text>
<circle cx="824.7" cy="346.3" r="11" fill="none" stroke="#1c2624" stroke-width="1.1"/><text x="824.7" y="350.8" font-size="12.5" fill="#1d2236" text-anchor="middle">6</text>
<rect x="486.25" y="278.25" width="42.5" height="58" fill="none" stroke="#1c2624" stroke-width="1" />
<g transform="translate(486.25,336.25) rotate(-90)"><text x="4.6" y="8" font-size="7.3" fill="#1d2236" text-anchor="start" >Flur</text><text x="4.6" y="18.4" font-size="7.3" fill="#1d2236" text-anchor="start" >1.OG-06/ WO5</text><text x="4.6" y="28.6" font-size="7.3" fill="#1d2236" text-anchor="start" >NRF:</text><text x="4.6" y="38.8" font-size="7.3" fill="#1d2236" text-anchor="start" >WF:</text><text x="42.2" y="28.6" font-size="7.3" fill="#1d2236" text-anchor="end" >6,74</text><text x="42.2" y="38.8" font-size="7.3" fill="#1d2236" text-anchor="end" >6,61</text><text x="44.2" y="28.6" font-size="7.3" fill="#1d2236" text-anchor="start" >m</text><text x="50.4" y="25.4" font-size="4.6" fill="#1d2236" text-anchor="start" >2</text><text x="44.2" y="38.8" font-size="7.3" fill="#1d2236" text-anchor="start" >m</text><text x="50.4" y="35.6" font-size="4.6" fill="#1d2236" text-anchor="start" >2</text></g>
<rect x="801.75" y="278.25" width="42.5" height="58" fill="none" stroke="#1c2624" stroke-width="1" />
<g transform="translate(801.75,336.25) rotate(-90)"><text x="4.6" y="8" font-size="7.3" fill="#1d2236" text-anchor="start" >Flur</text><text x="4.6" y="18.4" font-size="7.3" fill="#1d2236" text-anchor="start" >1.OG-15/ WO6</text><text x="4.6" y="28.6" font-size="7.3" fill="#1d2236" text-anchor="start" >NRF:</text><text x="4.6" y="38.8" font-size="7.3" fill="#1d2236" text-anchor="start" >WF:</text><text x="42.2" y="28.6" font-size="7.3" fill="#1d2236" text-anchor="end" >6,75</text><text x="42.2" y="38.8" font-size="7.3" fill="#1d2236" text-anchor="end" >6,61</text><text x="44.2" y="28.6" font-size="7.3" fill="#1d2236" text-anchor="start" >m</text><text x="50.4" y="25.4" font-size="4.6" fill="#1d2236" text-anchor="start" >2</text><text x="44.2" y="38.8" font-size="7.3" fill="#1d2236" text-anchor="start" >m</text><text x="50.4" y="35.6" font-size="4.6" fill="#1d2236" text-anchor="start" >2</text></g>
<g class="lb">
<rect x="459.3" y="529.3" width="56.8" height="41.9" fill="none" stroke="#1c2624" stroke-width="1" />
<text x="463.9" y="536.7" font-size="7.3" fill="#1d2236">Balkon 1</text>
<text x="463.9" y="547.7" font-size="7.3" fill="#1d2236">1.OG-10/ WO5</text>
<text x="463.9" y="557.9" font-size="7.3" fill="#1d2236">NRF:</text>
<text x="463.9" y="568.6" font-size="7.3" fill="#1d2236">WF:</text>
<text x="501.6" y="557.9" font-size="7.3" fill="#1d2236" text-anchor="end">19,70</text>
<text x="501.6" y="568.6" font-size="7.3" fill="#1d2236" text-anchor="end">9,65</text>
<text x="503.7" y="557.9" font-size="7.3" fill="#1d2236">m</text>
<text x="509.7" y="554.9" font-size="5" fill="#1d2236">2</text>
<text x="503.7" y="568.6" font-size="7.3" fill="#1d2236">m</text>
<text x="509.7" y="565.6" font-size="5" fill="#1d2236">2</text>
</g>
<circle cx="447.9" cy="551.5" r="11" fill="none" stroke="#1c2624" stroke-width="1.1"/><text x="447.9" y="556" font-size="12.5" fill="#1d2236" text-anchor="middle">5</text>
<g class="lb">
<rect x="773.3" y="529.3" width="58.2" height="41.9" fill="none" stroke="#1c2624" stroke-width="1" />
<text x="777.9" y="536.7" font-size="7.3" fill="#1d2236">Balkon 2</text>
<text x="777.9" y="547.7" font-size="7.3" fill="#1d2236">1.OG-19/ WO6</text>
<text x="777.9" y="557.9" font-size="7.3" fill="#1d2236">NRF:</text>
<text x="777.9" y="568.6" font-size="7.3" fill="#1d2236">WF:</text>
<text x="815.6" y="557.9" font-size="7.3" fill="#1d2236" text-anchor="end">19,70</text>
<text x="815.6" y="568.6" font-size="7.3" fill="#1d2236" text-anchor="end">9,65</text>
<text x="817.7" y="557.9" font-size="7.3" fill="#1d2236">m</text>
<text x="823.7" y="554.9" font-size="5" fill="#1d2236">2</text>
<text x="817.7" y="568.6" font-size="7.3" fill="#1d2236">m</text>
<text x="823.7" y="565.6" font-size="5" fill="#1d2236">2</text>
</g>
<circle cx="842" cy="548.8" r="11" fill="none" stroke="#1c2624" stroke-width="1.1"/><text x="842" y="553.3" font-size="12.5" fill="#1d2236" text-anchor="middle">6</text>
<g class="lb">
<rect x="621.1" y="261.2" width="57.2" height="42.4" fill="none" stroke="#1c2624" stroke-width="1" />
<text x="625.7" y="268.6" font-size="7.3" fill="#1d2236">TRH-3</text>
<text x="625.7" y="279.6" font-size="7.3" fill="#1d2236">1.OG-01</text>
<text x="625.7" y="289.8" font-size="7.3" fill="#1d2236">NRF:</text>
<text x="625.7" y="300.5" font-size="7.3" fill="#1d2236">WF:</text>
<text x="663.4" y="289.8" font-size="7.3" fill="#1d2236" text-anchor="end">12,16</text>
<text x="663.4" y="300.5" font-size="7.3" fill="#1d2236" text-anchor="end">0,00</text>
<text x="665.5" y="289.8" font-size="7.3" fill="#1d2236">m</text>
<text x="671.5" y="286.8" font-size="5" fill="#1d2236">2</text>
<text x="665.5" y="300.5" font-size="7.3" fill="#1d2236">m</text>
<text x="671.5" y="297.5" font-size="5" fill="#1d2236">2</text>
</g>
<circle cx="644.7" cy="249.5" r="11" fill="none" stroke="#1c2624" stroke-width="1.1"/><text x="644.7" y="254" font-size="12.5" fill="#1d2236" text-anchor="middle">G</text>
<text x="413" y="99.5" font-size="7.3" fill="#1d2236" text-anchor="middle" font-weight="bold">BRH 1,10</text>
<text x="535" y="99.5" font-size="7.3" fill="#1d2236" text-anchor="middle" font-weight="bold">BRH 1,10</text>
<text x="917.5" y="99.5" font-size="7.3" fill="#1d2236" text-anchor="middle" font-weight="bold">BRH 1,10</text>
<text x="795.5" y="99.5" font-size="7.3" fill="#1d2236" text-anchor="middle" font-weight="bold">BRH 1,10</text>
<text x="665.3" y="81" font-size="7.3" fill="#1d2236" text-anchor="middle" font-weight="bold">BRH 20</text>
<text x="440" y="523" font-size="7.3" fill="#3a4256" text-anchor="middle" >BRH 20</text>
<text x="890.5" y="523" font-size="7.3" fill="#3a4256" text-anchor="middle" >BRH 20</text>
<text x="602" y="523" font-size="7.3" fill="#3a4256" text-anchor="middle" >BRH 1,10</text>
<text x="728.5" y="523" font-size="7.3" fill="#3a4256" text-anchor="middle" >BRH 1,10</text>
<text x="334.5" y="292.8" font-size="7.3" fill="#1d2236" text-anchor="middle" font-weight="bold" transform="rotate(-90 334.5 292.8)">BRH 1,45</text>
<text x="1001" y="292.8" font-size="7.3" fill="#1d2236" text-anchor="middle" font-weight="bold" transform="rotate(-90 1001 292.8)">BRH 1,45</text>
<text x="479" y="239.6" font-size="7.3" fill="#1d2236" text-anchor="middle" >1,01</text><line x1="471.5" y1="241.6" x2="486.5" y2="241.6" stroke="#1a2220" stroke-width="0.9" /><text x="479" y="249.6" font-size="7.3" fill="#1d2236" text-anchor="middle" >2,01</text>
<text x="479" y="299" font-size="7.3" fill="#1d2236" text-anchor="middle" >1,01</text><line x1="471.5" y1="301" x2="486.5" y2="301" stroke="#1a2220" stroke-width="0.9" /><text x="479" y="309" font-size="7.3" fill="#1d2236" text-anchor="middle" >2,01</text>
<g transform="translate(521,218.5) rotate(-90)"><text x="0" y="-2" font-size="7.3" fill="#1d2236" text-anchor="middle" >1,01</text><line x1="-7.5" y1="0" x2="7.5" y2="0" stroke="#1a2220" stroke-width="0.9" /><text x="0" y="8" font-size="7.3" fill="#1d2236" text-anchor="middle" >2,01</text></g>
<text x="605" y="288.6" font-size="7.3" fill="#1d2236" text-anchor="middle" >1,01</text><line x1="597.5" y1="290.6" x2="612.5" y2="290.6" stroke="#1a2220" stroke-width="0.9" /><text x="605" y="298.6" font-size="7.3" fill="#1d2236" text-anchor="middle" >2,13&#8309;</text>
<g transform="translate(582.3,386) rotate(-90)"><text x="0" y="-2" font-size="7.3" fill="#1d2236" text-anchor="middle" >885</text><line x1="-7.5" y1="0" x2="7.5" y2="0" stroke="#1a2220" stroke-width="0.9" /><text x="0" y="8" font-size="7.3" fill="#1d2236" text-anchor="middle" >2,01</text></g>
<text x="615.5" y="342" font-size="7" fill="#1d2236" text-anchor="middle" transform="rotate(-90 615.5 342)">100 /51</text>
<text x="851.5" y="239.6" font-size="7.3" fill="#1d2236" text-anchor="middle" >1,01</text><line x1="844" y1="241.6" x2="859" y2="241.6" stroke="#1a2220" stroke-width="0.9" /><text x="851.5" y="249.6" font-size="7.3" fill="#1d2236" text-anchor="middle" >2,01</text>
<text x="851.5" y="299" font-size="7.3" fill="#1d2236" text-anchor="middle" >1,01</text><line x1="844" y1="301" x2="859" y2="301" stroke="#1a2220" stroke-width="0.9" /><text x="851.5" y="309" font-size="7.3" fill="#1d2236" text-anchor="middle" >2,01</text>
<g transform="translate(809.5,218.5) rotate(-90)"><text x="0" y="-2" font-size="7.3" fill="#1d2236" text-anchor="middle" >1,01</text><line x1="-7.5" y1="0" x2="7.5" y2="0" stroke="#1a2220" stroke-width="0.9" /><text x="0" y="8" font-size="7.3" fill="#1d2236" text-anchor="middle" >2,01</text></g>
<text x="725.5" y="288.6" font-size="7.3" fill="#1d2236" text-anchor="middle" >1,01</text><line x1="718" y1="290.6" x2="733" y2="290.6" stroke="#1a2220" stroke-width="0.9" /><text x="725.5" y="298.6" font-size="7.3" fill="#1d2236" text-anchor="middle" >2,13&#8309;</text>
<g transform="translate(748.2,386) rotate(-90)"><text x="0" y="-2" font-size="7.3" fill="#1d2236" text-anchor="middle" >885</text><line x1="-7.5" y1="0" x2="7.5" y2="0" stroke="#1a2220" stroke-width="0.9" /><text x="0" y="8" font-size="7.3" fill="#1d2236" text-anchor="middle" >2,01</text></g>
<text x="720" y="342" font-size="7" fill="#1d2236" text-anchor="middle" transform="rotate(-90 720 342)">100 /51</text>
</svg></body></html>
